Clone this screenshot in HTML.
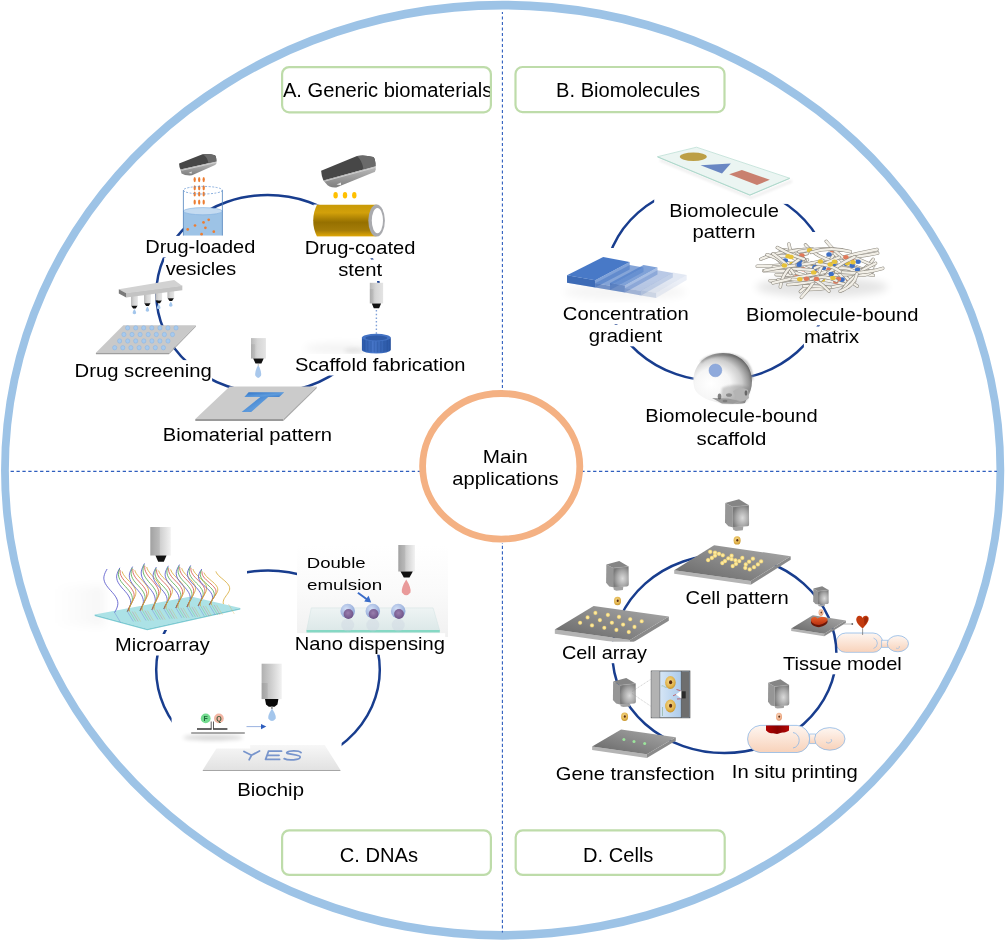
<!DOCTYPE html>
<html><head><meta charset="utf-8"><style>
html,body{margin:0;padding:0;background:#fff;}
svg{display:block;will-change:transform;}
text{font-family:"Liberation Sans",sans-serif;}
</style></head><body>
<svg width="1005" height="941" viewBox="0 0 1005 941">
<defs>
<linearGradient id="gold" x1="0" y1="0" x2="0" y2="1">
 <stop offset="0" stop-color="#C99A06"/><stop offset="0.25" stop-color="#D2A00A"/><stop offset="0.55" stop-color="#967000"/><stop offset="0.8" stop-color="#A47C08"/><stop offset="1" stop-color="#E3AA05"/></linearGradient>
<linearGradient id="nozz" x1="0" y1="0" x2="1" y2="0">
 <stop offset="0" stop-color="#B8B8B8"/><stop offset="0.45" stop-color="#D6D6D6"/><stop offset="1" stop-color="#E4E4E4"/></linearGradient>
<linearGradient id="nozz2" x1="0" y1="0" x2="1" y2="0">
 <stop offset="0" stop-color="#B0B0B0"/><stop offset="0.5" stop-color="#D0D0D0"/><stop offset="1" stop-color="#F2F2F2"/></linearGradient>
<linearGradient id="tblue" x1="0" y1="0" x2="1" y2="1">
 <stop offset="0" stop-color="#2F74C8"/><stop offset="0.6" stop-color="#5E9BDC"/><stop offset="1" stop-color="#3B7CCB"/></linearGradient>
<radialGradient id="headg" cx="0.6" cy="0.58" r="0.62">
 <stop offset="0" stop-color="#DADADA"/><stop offset="0.6" stop-color="#A6A6A6"/><stop offset="1" stop-color="#7A7A7A"/></radialGradient>
<linearGradient id="slabg" x1="0" y1="1" x2="1" y2="0">
 <stop offset="0" stop-color="#656565"/><stop offset="1" stop-color="#ABABAB"/></linearGradient>
<radialGradient id="cellg" cx="0.45" cy="0.4" r="0.6">
 <stop offset="0" stop-color="#F6DC90"/><stop offset="0.7" stop-color="#E2B44C"/><stop offset="1" stop-color="#C8962E"/></radialGradient>
<radialGradient id="cellp" cx="0.45" cy="0.4" r="0.6">
 <stop offset="0" stop-color="#FBE0CC"/><stop offset="0.7" stop-color="#F0B08A"/><stop offset="1" stop-color="#E09068"/></radialGradient>
<radialGradient id="ydot" cx="0.5" cy="0.5" r="0.5">
 <stop offset="0" stop-color="#FFF3B8"/><stop offset="0.6" stop-color="#F8DE82"/><stop offset="1" stop-color="#F4D67A" stop-opacity="0.3"/></radialGradient>
<linearGradient id="mouse" x1="0" y1="0" x2="0" y2="1">
 <stop offset="0" stop-color="#FEF6F1"/><stop offset="1" stop-color="#F8D2BA"/></linearGradient>
<radialGradient id="skull" cx="0.36" cy="0.62" r="0.72" fx="0.3" fy="0.6">
 <stop offset="0" stop-color="#FFFFFF"/><stop offset="0.42" stop-color="#F6F6F6"/><stop offset="0.68" stop-color="#CDCDCD"/><stop offset="0.86" stop-color="#8E8E8E"/><stop offset="1" stop-color="#5A5A5A"/></radialGradient>
<radialGradient id="sphO" cx="0.4" cy="0.35" r="0.65">
 <stop offset="0" stop-color="#D4E0F6"/><stop offset="1" stop-color="#90A8D8"/></radialGradient>
<radialGradient id="sphI" cx="0.45" cy="0.4" r="0.6">
 <stop offset="0" stop-color="#9A7EAE"/><stop offset="1" stop-color="#6E5488"/></radialGradient>
<linearGradient id="slide" x1="0" y1="0" x2="0" y2="1">
 <stop offset="0" stop-color="#EEF4F4"/><stop offset="1" stop-color="#DCE8E8"/></linearGradient>
<linearGradient id="chip" x1="0" y1="0" x2="0" y2="1">
 <stop offset="0" stop-color="#F7F7F7"/><stop offset="1" stop-color="#E2E2E2"/></linearGradient>
<linearGradient id="scaf" x1="0" y1="0" x2="1" y2="0">
 <stop offset="0" stop-color="#2F5FB0"/><stop offset="0.4" stop-color="#4F80D4"/><stop offset="1" stop-color="#2D5BAA"/></linearGradient>
<linearGradient id="shadowL" x1="0" y1="0" x2="1" y2="0">
 <stop offset="0" stop-color="#000" stop-opacity="0"/><stop offset="1" stop-color="#000" stop-opacity="0.10"/></linearGradient>
<linearGradient id="heart" x1="0" y1="0" x2="0" y2="1">
 <stop offset="0" stop-color="#E8602A"/><stop offset="1" stop-color="#B83010"/></linearGradient>
<linearGradient id="redp" x1="0" y1="0" x2="1" y2="0">
 <stop offset="0" stop-color="#B00000"/><stop offset="0.5" stop-color="#8A0000"/><stop offset="1" stop-color="#B40606"/></linearGradient>
<linearGradient id="inset" x1="0" y1="0" x2="1" y2="0">
 <stop offset="0" stop-color="#E6F0FA"/><stop offset="1" stop-color="#9CC0E6"/></linearGradient>
<filter id="blur2" x="-30%" y="-60%" width="160%" height="220%"><feGaussianBlur stdDeviation="2"/></filter>
<filter id="blur4" x="-30%" y="-60%" width="160%" height="220%"><feGaussianBlur stdDeviation="4"/></filter>
<filter id="blur1" x="-30%" y="-60%" width="160%" height="220%"><feGaussianBlur stdDeviation="0.8"/></filter>
</defs>
<rect width="1005" height="941" fill="#fff"/>
<path fill-rule="evenodd" fill="#9DC3E6" d="M1.0499999999999545,470.2 a501.6,469.2 0 1 0 1003.2,0 a501.6,469.2 0 1 0 -1003.2,0 Z M8.849999999999966,470.2 a493.8,460.7 0 1 0 987.6,0 a493.8,460.7 0 1 0 -987.6,0 Z"/>
<line x1="502.4" y1="12" x2="502.4" y2="400" stroke="#2F5EBE" stroke-width="1.1" stroke-dasharray="3.1 2.4" stroke-dashoffset="1.1"/>
<line x1="502.4" y1="543" x2="502.4" y2="932.5" stroke="#2F5EBE" stroke-width="1.1" stroke-dasharray="3.1 2.4" stroke-dashoffset="2.7"/>
<line x1="10.6" y1="471.4" x2="430" y2="471.4" stroke="#2F5EBE" stroke-width="1.1" stroke-dasharray="3.3 2.6"/>
<line x1="578" y1="471.4" x2="997" y2="471.4" stroke="#2F5EBE" stroke-width="1.1" stroke-dasharray="3.3 2.6" stroke-dashoffset="2.6"/>
<ellipse cx="501.2" cy="466.3" rx="78.6" ry="72.8" fill="#fff" stroke="#F4B183" stroke-width="6.8"/>
<rect x="282" y="67" width="209" height="45.400000000000006" rx="7" ry="7" fill="#fff"/>
<rect x="515.4" y="66.9" width="209.20000000000005" height="45.3" rx="7" ry="7" fill="#fff"/>
<rect x="282" y="830.2" width="209" height="44.799999999999955" rx="7" ry="7" fill="#fff"/>
<rect x="515.6" y="830.2" width="209.19999999999993" height="44.799999999999955" rx="7" ry="7" fill="#fff"/>
<path d="M845.8,633 L873.0,633 A9.7,9.7 0 0 1 873.0,652.4 L845.8,652.4 A9.7,9.7 0 0 1 845.8,633 Z" fill="url(#mouse)" stroke="#8DB8E6" stroke-width="0.8"/>
<rect x="881.7" y="640.2" width="6.5" height="7.1" fill="url(#mouse)" stroke="#8DB8E6" stroke-width="0.7"/>
<ellipse cx="897.9" cy="643.7" rx="10.6" ry="8.1" fill="url(#mouse)" stroke="#8DB8E6" stroke-width="0.8"/>
<path d="M873.5,638 A5.5,5.5 0 0 1 873.5,648.5" fill="none" stroke="#8DB8E6" stroke-width="0.7"/>
<path d="M896,648 a2,1.5 0 1 0 3,-2" fill="none" stroke="#8DB8E6" stroke-width="0.6"/>
<ellipse cx="267.8" cy="294.0" rx="111.5" ry="99.0" fill="none" stroke="#183D8E" stroke-width="2.5"/>
<ellipse cx="717.5" cy="282.4" rx="112.3" ry="98.7" fill="none" stroke="#183D8E" stroke-width="2.5"/>
<ellipse cx="268.0" cy="669.8" rx="111.8" ry="99.4" fill="none" stroke="#183D8E" stroke-width="2.5"/>
<ellipse cx="724.4" cy="653.8" rx="112.0" ry="99.3" fill="none" stroke="#183D8E" stroke-width="2.5"/>
<linearGradient id="band" x1="0" y1="0" x2="0" y2="1"><stop offset="0" stop-color="#BDBDBD"/><stop offset="1" stop-color="#7E7E7E"/></linearGradient>
<path d="M179.1,163.4 L202.5,154.3 Q209,153.3 214.9,155.3 Q216.4,156.5 216.4,161.5 L180.5,169.6 Q179.1,166.5 179.1,163.4 Z" fill="#474747"/>
<path d="M202.5,154.3 Q209,153.3 214.9,155.3 Q216.4,156.5 216.4,161.5 L208.5,163.3 Q207.5,157 202.5,154.3 Z" fill="#6A6A6A"/>
<path d="M180.5,169.6 L216.4,161.5 L216.4,163.5 Q216,164.8 214.5,165.3 L192,175.3 Q185,175.8 181.5,173.4 Z" fill="url(#band)"/>
<path d="M181.5,170.3 L216,162.5" fill="none" stroke="#D2D2D2" stroke-width="0.9"/>
<path d="M188.5,173 l3.2,-1.6 l0,2.2 z" fill="#E6E6E6"/>
<ellipse cx="194.7" cy="179.6" rx="1.15" ry="2.6" fill="#ED7D31"/>
<ellipse cx="194.7" cy="187.8" rx="1.15" ry="2.6" fill="#ED7D31"/>
<ellipse cx="194.7" cy="194.0" rx="1.15" ry="2.6" fill="#ED7D31"/>
<ellipse cx="194.7" cy="202.1" rx="1.15" ry="2.6" fill="#ED7D31"/>
<ellipse cx="199.2" cy="179.6" rx="1.15" ry="2.6" fill="#ED7D31"/>
<ellipse cx="199.2" cy="187.8" rx="1.15" ry="2.6" fill="#ED7D31"/>
<ellipse cx="199.2" cy="194.0" rx="1.15" ry="2.6" fill="#ED7D31"/>
<ellipse cx="199.2" cy="202.1" rx="1.15" ry="2.6" fill="#ED7D31"/>
<ellipse cx="203.7" cy="179.6" rx="1.15" ry="2.6" fill="#ED7D31"/>
<ellipse cx="203.7" cy="187.8" rx="1.15" ry="2.6" fill="#ED7D31"/>
<ellipse cx="203.7" cy="194.0" rx="1.15" ry="2.6" fill="#ED7D31"/>
<ellipse cx="203.7" cy="202.1" rx="1.15" ry="2.6" fill="#ED7D31"/>
<rect x="183.4" y="211.2" width="39" height="24.4" fill="#9DC3E6"/>
<ellipse cx="202.9" cy="211.2" rx="19.5" ry="3.6" fill="#C4DBF1" stroke="#7FAEDF" stroke-width="0.6"/>
<path d="M183.4,190.2 L183.4,235.6 M222.4,190.2 L222.4,235.6" stroke="#4F81BD" stroke-width="0.8"/>
<ellipse cx="202.9" cy="190.2" rx="19.5" ry="3.8" fill="none" stroke="#5B8FD0" stroke-width="0.7" stroke-dasharray="2 1.5"/>
<circle cx="208.7" cy="219.8" r="1.35" fill="#ED7D31"/>
<circle cx="203.5" cy="222.4" r="1.35" fill="#ED7D31"/>
<circle cx="195" cy="225.5" r="1.35" fill="#ED7D31"/>
<circle cx="205.4" cy="227.8" r="1.35" fill="#ED7D31"/>
<circle cx="187.7" cy="229.4" r="1.35" fill="#ED7D31"/>
<circle cx="213.8" cy="231.7" r="1.35" fill="#ED7D31"/>
<circle cx="201.6" cy="234.2" r="1.35" fill="#ED7D31"/>
<path d="M321.1,170.7 L357,156.1 Q364,154.5 373.2,157.1 Q375.5,158.5 375.5,166.2 L323.4,180.4 Q321.5,176 321.1,170.7 Z" fill="#474747"/>
<path d="M357,156.1 Q364,154.5 373.2,157.1 Q375.5,158.5 375.5,166.2 L363.5,169.5 Q362,160 357,156.1 Z" fill="#6A6A6A"/>
<path d="M323.4,180.4 L375.5,166.2 L375.8,169.4 Q375.5,172 373.2,172.6 L336.3,187.5 Q329,188 326,183.6 Z" fill="url(#band)"/>
<path d="M324.5,181.2 L375.3,167.4" fill="none" stroke="#D2D2D2" stroke-width="0.9"/>
<path d="M336.5,184.5 l4.5,-2 l0,2.8 z" fill="#E6E6E6"/>
<ellipse cx="335.6" cy="195.3" rx="2.2" ry="3.3" fill="#FFC000"/>
<ellipse cx="345.0" cy="195.3" rx="2.2" ry="3.3" fill="#FFC000"/>
<ellipse cx="354.3" cy="195.3" rx="2.2" ry="3.3" fill="#FFC000"/>
<rect x="313.5" y="204.5" width="73" height="34.8" fill="#fff"/>
<path d="M317,204.7 L376.6,204.7 L376.6,236.6 L317,236.6 Q313.2,229 313.2,220.6 Q313.2,212 317,204.7 Z" fill="url(#gold)"/>
<ellipse cx="376.6" cy="220.6" rx="8.3" ry="16" fill="#A9AAAE"/>
<ellipse cx="377.4" cy="220.6" rx="5.6" ry="12.6" fill="#fff"/>
<rect x="131.0" y="294.2" width="6.8" height="11.5" fill="url(#nozz)"/>
<path d="M131.3,305.7 L137.5,305.7 L135.7,308.5 L133.1,308.5 Z" fill="#111"/>
<path d="M134.4,309.0 Q136.6,312.4 136.0,313.6 Q134.4,315.0 132.8,313.6 Q132.2,312.4 134.4,309.0 Z" fill="#A3C6EC"/>
<rect x="144.0" y="292.5" width="6.8" height="10.7" fill="url(#nozz)"/>
<path d="M144.3,303.2 L150.5,303.2 L148.7,306.0 L146.1,306.0 Z" fill="#111"/>
<path d="M147.4,306.5 Q149.6,309.9 149.0,311.1 Q147.4,312.5 145.8,311.1 Q145.2,309.9 147.4,306.5 Z" fill="#A3C6EC"/>
<rect x="155.3" y="291.0" width="6.8" height="9.5" fill="url(#nozz)"/>
<path d="M155.6,300.5 L161.8,300.5 L160.0,303.3 L157.4,303.3 Z" fill="#111"/>
<path d="M158.7,303.8 Q160.9,307.2 160.3,308.4 Q158.7,309.8 157.1,308.4 Q156.5,307.2 158.7,303.8 Z" fill="#A3C6EC"/>
<rect x="167.4" y="289.4" width="6.8" height="8.8" fill="url(#nozz)"/>
<path d="M167.7,298.2 L173.9,298.2 L172.1,301.0 L169.5,301.0 Z" fill="#111"/>
<path d="M170.8,301.5 Q173.0,304.9 172.4,306.1 Q170.8,307.5 169.2,306.1 Q168.6,304.9 170.8,301.5 Z" fill="#A3C6EC"/>
<path d="M126.2,292.8 L182.3,285.4 L182.3,290.2 L126.2,297.6 Z" fill="#C3C3C3"/>
<path d="M118.8,289.3 L174.2,280.1 L182.3,285.9 L126.2,293.3 Z" fill="#D2D2D2"/>
<path d="M118.8,289.3 L126.2,293.3 L126.2,297.6 L118.8,293.6 Z" fill="#7A7A7A"/>
<path d="M123.3,325.3 L195.8,325.3 L169.1,352.8 L95.9,352.8 Z" fill="#C9C9C9"/>
<path d="M95.9,352.8 L169.1,352.8 L169.1,354.3 L95.9,354.3 Z" fill="#9E9E9E"/>
<path d="M169.1,352.8 L195.8,325.3 L195.8,326.8 L169.1,354.3 Z" fill="#ABABAB"/>
<ellipse cx="127.6" cy="327.9" rx="2.1" ry="2.2" fill="#A7CAEE" stroke="#86B2E3" stroke-width="0.5"/>
<ellipse cx="135.7" cy="327.9" rx="2.1" ry="2.2" fill="#A7CAEE" stroke="#86B2E3" stroke-width="0.5"/>
<ellipse cx="143.7" cy="327.9" rx="2.1" ry="2.2" fill="#A7CAEE" stroke="#86B2E3" stroke-width="0.5"/>
<ellipse cx="151.8" cy="327.9" rx="2.1" ry="2.2" fill="#A7CAEE" stroke="#86B2E3" stroke-width="0.5"/>
<ellipse cx="159.9" cy="327.9" rx="2.1" ry="2.2" fill="#A7CAEE" stroke="#86B2E3" stroke-width="0.5"/>
<ellipse cx="167.9" cy="327.9" rx="2.1" ry="2.2" fill="#A7CAEE" stroke="#86B2E3" stroke-width="0.5"/>
<ellipse cx="176.0" cy="327.9" rx="2.1" ry="2.2" fill="#A7CAEE" stroke="#86B2E3" stroke-width="0.5"/>
<ellipse cx="123.9" cy="334.5" rx="2.1" ry="2.2" fill="#A7CAEE" stroke="#86B2E3" stroke-width="0.5"/>
<ellipse cx="132.0" cy="334.5" rx="2.1" ry="2.2" fill="#A7CAEE" stroke="#86B2E3" stroke-width="0.5"/>
<ellipse cx="140.1" cy="334.5" rx="2.1" ry="2.2" fill="#A7CAEE" stroke="#86B2E3" stroke-width="0.5"/>
<ellipse cx="148.2" cy="334.5" rx="2.1" ry="2.2" fill="#A7CAEE" stroke="#86B2E3" stroke-width="0.5"/>
<ellipse cx="156.3" cy="334.5" rx="2.1" ry="2.2" fill="#A7CAEE" stroke="#86B2E3" stroke-width="0.5"/>
<ellipse cx="164.4" cy="334.5" rx="2.1" ry="2.2" fill="#A7CAEE" stroke="#86B2E3" stroke-width="0.5"/>
<ellipse cx="172.5" cy="334.5" rx="2.1" ry="2.2" fill="#A7CAEE" stroke="#86B2E3" stroke-width="0.5"/>
<ellipse cx="119.6" cy="341.0" rx="2.1" ry="2.2" fill="#A7CAEE" stroke="#86B2E3" stroke-width="0.5"/>
<ellipse cx="127.7" cy="341.0" rx="2.1" ry="2.2" fill="#A7CAEE" stroke="#86B2E3" stroke-width="0.5"/>
<ellipse cx="135.7" cy="341.0" rx="2.1" ry="2.2" fill="#A7CAEE" stroke="#86B2E3" stroke-width="0.5"/>
<ellipse cx="143.8" cy="341.0" rx="2.1" ry="2.2" fill="#A7CAEE" stroke="#86B2E3" stroke-width="0.5"/>
<ellipse cx="151.9" cy="341.0" rx="2.1" ry="2.2" fill="#A7CAEE" stroke="#86B2E3" stroke-width="0.5"/>
<ellipse cx="159.9" cy="341.0" rx="2.1" ry="2.2" fill="#A7CAEE" stroke="#86B2E3" stroke-width="0.5"/>
<ellipse cx="168.0" cy="341.0" rx="2.1" ry="2.2" fill="#A7CAEE" stroke="#86B2E3" stroke-width="0.5"/>
<ellipse cx="114.7" cy="347.7" rx="2.1" ry="2.2" fill="#A7CAEE" stroke="#86B2E3" stroke-width="0.5"/>
<ellipse cx="122.8" cy="347.7" rx="2.1" ry="2.2" fill="#A7CAEE" stroke="#86B2E3" stroke-width="0.5"/>
<ellipse cx="130.9" cy="347.7" rx="2.1" ry="2.2" fill="#A7CAEE" stroke="#86B2E3" stroke-width="0.5"/>
<ellipse cx="139.1" cy="347.7" rx="2.1" ry="2.2" fill="#A7CAEE" stroke="#86B2E3" stroke-width="0.5"/>
<ellipse cx="147.2" cy="347.7" rx="2.1" ry="2.2" fill="#A7CAEE" stroke="#86B2E3" stroke-width="0.5"/>
<ellipse cx="155.3" cy="347.7" rx="2.1" ry="2.2" fill="#A7CAEE" stroke="#86B2E3" stroke-width="0.5"/>
<ellipse cx="163.4" cy="347.7" rx="2.1" ry="2.2" fill="#A7CAEE" stroke="#86B2E3" stroke-width="0.5"/>
<path d="M229.7,386.4 L316.7,386.4 L283.3,419.1 L195.3,419.1 Z" fill="#CBCBCB"/>
<path d="M195.3,419.1 L283.3,419.1 L283.3,420.9 L195.3,420.9 Z" fill="#9A9A9A"/>
<path d="M283.3,419.1 L316.7,386.4 L316.7,388.2 L283.3,420.9 Z" fill="#AAAAAA"/>
<path d="M248.6,392.3 L284.2,392.3 L279.2,397 L244.4,397 Z" fill="url(#tblue)"/>
<path d="M260.4,397 L268.2,397 L251.2,411.9 L241.6,411.9 Z" fill="url(#tblue)"/>
<rect x="251" y="338.1" width="14.9" height="20.5" fill="url(#nozz)"/>
<rect x="251" y="344.2" width="4.2" height="14.3" fill="#000" opacity="0.06"/>
<path d="M253.2,358.6 L263.7,358.6 L261.4,363.4 L255.5,363.4 Z" fill="#111"/>
<path d="M258.2,364.8 Q262,372 261,375.8 Q258.2,380 255.4,375.8 Q254.4,372 258.2,364.8 Z" fill="#A9C8EC"/>
<path d="M257.6,364 L258.8,364 L258.5,366 L257.9,366Z" fill="#bbb"/>
<rect x="286" y="283.5" width="110" height="71" fill="#fff"/>
<ellipse cx="338" cy="348.5" rx="34" ry="5" fill="#000" opacity="0.05" filter="url(#blur4)"/>
<ellipse cx="354" cy="350.5" rx="10" ry="2.5" fill="#000" opacity="0.08" filter="url(#blur2)"/>
<rect x="369.8" y="282.8" width="13.3" height="20.6" fill="url(#nozz)"/>
<rect x="369.8" y="289.0" width="3.7" height="14.4" fill="#000" opacity="0.06"/>
<path d="M371.8,303.4 L381.1,303.4 L379.1,308.3 L373.8,308.3 Z" fill="#111"/>
<line x1="376.4" y1="310" x2="376.4" y2="334" stroke="#7F9FD8" stroke-width="1.4" stroke-dasharray="1.5 2.2"/>
<path d="M361.9,337.5 L361.9,349.8 A14.4,3.8 0 0 0 390.7,349.8 L390.7,337.5 Z" fill="url(#scaf)"/>
<line x1="363.00" y1="338.5" x2="363.00" y2="350.37" stroke="#1A4088" stroke-width="0.55" opacity="0.7"/>
<line x1="364.45" y1="338.5" x2="364.45" y2="350.81" stroke="#1A4088" stroke-width="0.55" opacity="0.7"/>
<line x1="365.90" y1="338.5" x2="365.90" y2="351.20" stroke="#1A4088" stroke-width="0.55" opacity="0.7"/>
<line x1="367.35" y1="338.5" x2="367.35" y2="351.53" stroke="#1A4088" stroke-width="0.55" opacity="0.7"/>
<line x1="368.80" y1="338.5" x2="368.80" y2="351.82" stroke="#1A4088" stroke-width="0.55" opacity="0.7"/>
<line x1="370.25" y1="338.5" x2="370.25" y2="352.06" stroke="#1A4088" stroke-width="0.55" opacity="0.7"/>
<line x1="371.70" y1="338.5" x2="371.70" y2="352.24" stroke="#1A4088" stroke-width="0.55" opacity="0.7"/>
<line x1="373.15" y1="338.5" x2="373.15" y2="352.38" stroke="#1A4088" stroke-width="0.55" opacity="0.7"/>
<line x1="374.60" y1="338.5" x2="374.60" y2="352.47" stroke="#1A4088" stroke-width="0.55" opacity="0.7"/>
<line x1="376.05" y1="338.5" x2="376.05" y2="352.50" stroke="#1A4088" stroke-width="0.55" opacity="0.7"/>
<line x1="377.50" y1="338.5" x2="377.50" y2="352.48" stroke="#1A4088" stroke-width="0.55" opacity="0.7"/>
<line x1="378.95" y1="338.5" x2="378.95" y2="352.42" stroke="#1A4088" stroke-width="0.55" opacity="0.7"/>
<line x1="380.40" y1="338.5" x2="380.40" y2="352.30" stroke="#1A4088" stroke-width="0.55" opacity="0.7"/>
<line x1="381.85" y1="338.5" x2="381.85" y2="352.13" stroke="#1A4088" stroke-width="0.55" opacity="0.7"/>
<line x1="383.30" y1="338.5" x2="383.30" y2="351.91" stroke="#1A4088" stroke-width="0.55" opacity="0.7"/>
<line x1="384.75" y1="338.5" x2="384.75" y2="351.64" stroke="#1A4088" stroke-width="0.55" opacity="0.7"/>
<line x1="386.20" y1="338.5" x2="386.20" y2="351.32" stroke="#1A4088" stroke-width="0.55" opacity="0.7"/>
<line x1="387.65" y1="338.5" x2="387.65" y2="350.95" stroke="#1A4088" stroke-width="0.55" opacity="0.7"/>
<line x1="389.10" y1="338.5" x2="389.10" y2="350.52" stroke="#1A4088" stroke-width="0.55" opacity="0.7"/>
<line x1="390.55" y1="338.5" x2="390.55" y2="350.05" stroke="#1A4088" stroke-width="0.55" opacity="0.7"/>
<ellipse cx="376.3" cy="337.6" rx="14.4" ry="3.8" fill="#4473C4"/>
<ellipse cx="376.3" cy="338.0" rx="11" ry="2.4" fill="#2F5BA8"/>
<rect x="654.2" y="141" width="140" height="62.9" fill="#fff"/>
<path d="M660,160 L751,198 L792,181" fill="none" stroke="#000" stroke-opacity="0.06" stroke-width="3" filter="url(#blur1)"/>
<path d="M657.5,156.7 L696.5,147.2 L789.7,178.2 L749.9,194.9 Z" fill="#EBF5F2" stroke="#BEE0D5" stroke-width="0.8"/>
<path d="M657.5,156.9 L749.9,195.2 L789.7,178.4" fill="none" stroke="#A9D6C8" stroke-width="0.9"/>
<ellipse cx="693.3" cy="156.7" rx="13.5" ry="4.2" fill="#BC9F45"/>
<path d="M700.5,165.2 L730.8,163.6 L722,173.4 Z" fill="#6987C3"/>
<path d="M729.2,174.2 L741.9,169.9 L769.8,179.8 L757,185.1 Z" fill="#C9806F"/>
<rect x="556" y="248" width="142" height="57" fill="#fff"/>
<ellipse cx="625" cy="292" rx="62" ry="8" fill="#000" opacity="0.04" filter="url(#blur4)"/>
<polygon points="567.0,275.3 595.2,280.2 595.2,287.6 567.0,282.7" fill="#3E72C4" opacity="0.95" filter="none"/>
<polygon points="567.0,275.3 595.2,280.2 595.2,287.6 567.0,282.7" fill="#1F3F80" opacity="0.24"/>
<polygon points="603.2,257.1 629.7,262.0 595.2,280.2 567.0,275.3" fill="#3E72C4" opacity="0.95"/>
<polygon points="629.7,262.0 595.2,280.2 595.2,287.6 629.7,269.4" fill="#3E72C4" opacity="0.66"/>
<polygon points="595.2,283.2 610.0,285.7 610.0,290.1 595.2,287.6" fill="#5682C9" opacity="0.72" filter="none"/>
<polygon points="595.2,283.2 610.0,285.7 610.0,290.1 595.2,287.6" fill="#1F3F80" opacity="0.18"/>
<polygon points="629.7,265.0 643.5,267.6 610.0,285.7 595.2,283.2" fill="#5682C9" opacity="0.72"/>
<polygon points="643.5,267.6 610.0,285.7 610.0,290.1 643.5,272.0" fill="#5682C9" opacity="0.50"/>
<polygon points="610.0,283.1 624.9,285.6 624.9,292.6 610.0,290.1" fill="#4F7EC9" opacity="0.72" filter="none"/>
<polygon points="610.0,283.1 624.9,285.6 624.9,292.6 610.0,290.1" fill="#1F3F80" opacity="0.18"/>
<polygon points="643.5,265.0 657.5,267.6 624.9,285.6 610.0,283.1" fill="#4F7EC9" opacity="0.72"/>
<polygon points="657.5,267.6 624.9,285.6 624.9,292.6 657.5,274.6" fill="#4F7EC9" opacity="0.50"/>
<polygon points="624.9,288.2 641.2,291.0 641.2,295.4 624.9,292.6" fill="#7494CE" opacity="0.5" filter="none"/>
<polygon points="624.9,288.2 641.2,291.0 641.2,295.4 624.9,292.6" fill="#1F3F80" opacity="0.12"/>
<polygon points="657.5,270.2 672.8,273.0 641.2,291.0 624.9,288.2" fill="#7494CE" opacity="0.5"/>
<polygon points="672.8,273.0 641.2,291.0 641.2,295.4 672.8,277.4" fill="#7494CE" opacity="0.35"/>
<polygon points="641.2,290.4 656.1,293.0 656.1,298.0 641.2,295.4" fill="#A4B6DA" opacity="0.32" filter="none"/>
<polygon points="641.2,290.4 656.1,293.0 656.1,298.0 641.2,295.4" fill="#1F3F80" opacity="0.08"/>
<polygon points="672.8,272.4 686.7,275.0 656.1,293.0 641.2,290.4" fill="#A4B6DA" opacity="0.32"/>
<polygon points="686.7,275.0 656.1,293.0 656.1,298.0 686.7,280.0" fill="#A4B6DA" opacity="0.22"/>
<rect x="738" y="232" width="166" height="72.5" fill="#fff"/>
<ellipse cx="822" cy="287" rx="66" ry="10" fill="#000" opacity="0.10" filter="url(#blur4)"/>
<path d="M806.3,279.7 Q819.2,270.7 829.6,260.3" fill="none" stroke="#8E8A80" stroke-width="3.4" stroke-linecap="round"/>
<path d="M806.3,279.7 Q819.2,270.7 829.6,260.3" fill="none" stroke="#F2EFE7" stroke-width="2.3" stroke-linecap="round"/>
<path d="M782.1,261.5 Q792.3,266.0 797.0,273.7" fill="none" stroke="#8E8A80" stroke-width="3.4" stroke-linecap="round"/>
<path d="M782.1,261.5 Q792.3,266.0 797.0,273.7" fill="none" stroke="#F2EFE7" stroke-width="2.3" stroke-linecap="round"/>
<path d="M821.9,277.1 Q836.7,267.5 856.7,268.5" fill="none" stroke="#8E8A80" stroke-width="3.4" stroke-linecap="round"/>
<path d="M821.9,277.1 Q836.7,267.5 856.7,268.5" fill="none" stroke="#F2EFE7" stroke-width="2.3" stroke-linecap="round"/>
<path d="M773.1,254.7 Q790.5,258.4 807.2,253.5" fill="none" stroke="#8E8A80" stroke-width="3.4" stroke-linecap="round"/>
<path d="M773.1,254.7 Q790.5,258.4 807.2,253.5" fill="none" stroke="#F2EFE7" stroke-width="2.3" stroke-linecap="round"/>
<path d="M807.8,273.0 Q825.3,271.2 842.3,275.0" fill="none" stroke="#8E8A80" stroke-width="3.4" stroke-linecap="round"/>
<path d="M807.8,273.0 Q825.3,271.2 842.3,275.0" fill="none" stroke="#F2EFE7" stroke-width="2.3" stroke-linecap="round"/>
<path d="M844.7,279.4 Q857.5,272.1 873.4,275.3" fill="none" stroke="#8E8A80" stroke-width="3.4" stroke-linecap="round"/>
<path d="M844.7,279.4 Q857.5,272.1 873.4,275.3" fill="none" stroke="#F2EFE7" stroke-width="2.3" stroke-linecap="round"/>
<path d="M830.3,252.0 Q847.7,265.6 872.1,272.0" fill="none" stroke="#8E8A80" stroke-width="3.4" stroke-linecap="round"/>
<path d="M830.3,252.0 Q847.7,265.6 872.1,272.0" fill="none" stroke="#F2EFE7" stroke-width="2.3" stroke-linecap="round"/>
<path d="M859.7,271.7 Q868.3,266.5 873.2,259.3" fill="none" stroke="#8E8A80" stroke-width="3.4" stroke-linecap="round"/>
<path d="M859.7,271.7 Q868.3,266.5 873.2,259.3" fill="none" stroke="#F2EFE7" stroke-width="2.3" stroke-linecap="round"/>
<path d="M827.3,257.9 Q853.1,258.7 877.7,253.1" fill="none" stroke="#8E8A80" stroke-width="3.4" stroke-linecap="round"/>
<path d="M827.3,257.9 Q853.1,258.7 877.7,253.1" fill="none" stroke="#F2EFE7" stroke-width="2.3" stroke-linecap="round"/>
<path d="M760.8,259.2 Q780.7,250.5 804.2,249.4" fill="none" stroke="#8E8A80" stroke-width="3.4" stroke-linecap="round"/>
<path d="M760.8,259.2 Q780.7,250.5 804.2,249.4" fill="none" stroke="#F2EFE7" stroke-width="2.3" stroke-linecap="round"/>
<path d="M817.3,263.3 Q829.0,266.2 841.3,265.4" fill="none" stroke="#8E8A80" stroke-width="3.4" stroke-linecap="round"/>
<path d="M817.3,263.3 Q829.0,266.2 841.3,265.4" fill="none" stroke="#F2EFE7" stroke-width="2.3" stroke-linecap="round"/>
<path d="M757.2,266.1 Q783.3,266.8 807.5,259.9" fill="none" stroke="#8E8A80" stroke-width="3.4" stroke-linecap="round"/>
<path d="M757.2,266.1 Q783.3,266.8 807.5,259.9" fill="none" stroke="#F2EFE7" stroke-width="2.3" stroke-linecap="round"/>
<path d="M783.8,267.3 Q798.3,266.2 800.8,256.2" fill="none" stroke="#8E8A80" stroke-width="3.4" stroke-linecap="round"/>
<path d="M783.8,267.3 Q798.3,266.2 800.8,256.2" fill="none" stroke="#F2EFE7" stroke-width="2.3" stroke-linecap="round"/>
<path d="M780.1,249.4 Q796.7,250.4 805.1,260.4" fill="none" stroke="#8E8A80" stroke-width="3.4" stroke-linecap="round"/>
<path d="M780.1,249.4 Q796.7,250.4 805.1,260.4" fill="none" stroke="#F2EFE7" stroke-width="2.3" stroke-linecap="round"/>
<path d="M763.6,270.7 Q779.6,270.5 795.5,271.6" fill="none" stroke="#8E8A80" stroke-width="3.4" stroke-linecap="round"/>
<path d="M763.6,270.7 Q779.6,270.5 795.5,271.6" fill="none" stroke="#F2EFE7" stroke-width="2.3" stroke-linecap="round"/>
<path d="M807.1,289.6 Q832.3,289.2 854.7,281.1" fill="none" stroke="#8E8A80" stroke-width="3.4" stroke-linecap="round"/>
<path d="M807.1,289.6 Q832.3,289.2 854.7,281.1" fill="none" stroke="#F2EFE7" stroke-width="2.3" stroke-linecap="round"/>
<path d="M788.9,243.9 Q789.8,254.7 804.0,259.0" fill="none" stroke="#8E8A80" stroke-width="3.4" stroke-linecap="round"/>
<path d="M788.9,243.9 Q789.8,254.7 804.0,259.0" fill="none" stroke="#F2EFE7" stroke-width="2.3" stroke-linecap="round"/>
<path d="M853.3,274.2 Q865.8,277.8 873.7,270.1" fill="none" stroke="#8E8A80" stroke-width="3.4" stroke-linecap="round"/>
<path d="M853.3,274.2 Q865.8,277.8 873.7,270.1" fill="none" stroke="#F2EFE7" stroke-width="2.3" stroke-linecap="round"/>
<path d="M776.1,274.7 Q796.0,274.7 814.5,279.8" fill="none" stroke="#8E8A80" stroke-width="3.4" stroke-linecap="round"/>
<path d="M776.1,274.7 Q796.0,274.7 814.5,279.8" fill="none" stroke="#F2EFE7" stroke-width="2.3" stroke-linecap="round"/>
<path d="M770.0,280.7 Q789.9,282.4 807.2,275.4" fill="none" stroke="#8E8A80" stroke-width="3.4" stroke-linecap="round"/>
<path d="M770.0,280.7 Q789.9,282.4 807.2,275.4" fill="none" stroke="#F2EFE7" stroke-width="2.3" stroke-linecap="round"/>
<path d="M830.1,262.3 Q831.5,254.6 840.2,249.8" fill="none" stroke="#8E8A80" stroke-width="3.4" stroke-linecap="round"/>
<path d="M830.1,262.3 Q831.5,254.6 840.2,249.8" fill="none" stroke="#F2EFE7" stroke-width="2.3" stroke-linecap="round"/>
<path d="M774.4,255.8 Q785.7,264.9 803.0,265.1" fill="none" stroke="#8E8A80" stroke-width="3.4" stroke-linecap="round"/>
<path d="M774.4,255.8 Q785.7,264.9 803.0,265.1" fill="none" stroke="#F2EFE7" stroke-width="2.3" stroke-linecap="round"/>
<ellipse cx="818.2" cy="279.6" rx="2.7" ry="2.2" fill="#E6C23A"/>
<ellipse cx="811.1" cy="264.8" rx="2.7" ry="2.2" fill="#E6C23A"/>
<ellipse cx="815.0" cy="272.4" rx="2.7" ry="2.2" fill="#E07A5A"/>
<ellipse cx="792.0" cy="264.0" rx="2.7" ry="2.2" fill="#E6C23A"/>
<ellipse cx="845.9" cy="263.8" rx="2.7" ry="2.2" fill="#3D6FC6"/>
<ellipse cx="832.5" cy="250.2" rx="2.7" ry="2.2" fill="#E07A5A"/>
<ellipse cx="829.0" cy="254.4" rx="2.7" ry="2.2" fill="#3D6FC6"/>
<ellipse cx="846.4" cy="280.2" rx="2.7" ry="2.2" fill="#E07A5A"/>
<ellipse cx="785.3" cy="260.5" rx="2.7" ry="2.2" fill="#3D6FC6"/>
<ellipse cx="841.5" cy="279.8" rx="2.7" ry="2.2" fill="#3D6FC6"/>
<ellipse cx="812.6" cy="277.8" rx="2.7" ry="2.2" fill="#E07A5A"/>
<ellipse cx="851.7" cy="259.3" rx="2.7" ry="2.2" fill="#E07A5A"/>
<ellipse cx="835.9" cy="273.5" rx="2.7" ry="2.2" fill="#3D6FC6"/>
<ellipse cx="801.9" cy="255.5" rx="2.7" ry="2.2" fill="#E07A5A"/>
<ellipse cx="829.0" cy="269.5" rx="2.7" ry="2.2" fill="#E07A5A"/>
<ellipse cx="823.5" cy="267.9" rx="2.7" ry="2.2" fill="#3D6FC6"/>
<path d="M833.5,273.5 Q845.6,276.1 853.0,268.9" fill="none" stroke="#8E8A80" stroke-width="3.4" stroke-linecap="round"/>
<path d="M833.5,273.5 Q845.6,276.1 853.0,268.9" fill="none" stroke="#F2EFE7" stroke-width="2.3" stroke-linecap="round"/>
<path d="M810.4,276.2 Q820.9,279.1 831.8,280.8" fill="none" stroke="#8E8A80" stroke-width="3.4" stroke-linecap="round"/>
<path d="M810.4,276.2 Q820.9,279.1 831.8,280.8" fill="none" stroke="#F2EFE7" stroke-width="2.3" stroke-linecap="round"/>
<path d="M839.0,268.3 Q845.4,278.6 857.3,286.1" fill="none" stroke="#8E8A80" stroke-width="3.4" stroke-linecap="round"/>
<path d="M839.0,268.3 Q845.4,278.6 857.3,286.1" fill="none" stroke="#F2EFE7" stroke-width="2.3" stroke-linecap="round"/>
<path d="M800.3,291.6 Q812.7,280.5 828.2,271.5" fill="none" stroke="#8E8A80" stroke-width="3.4" stroke-linecap="round"/>
<path d="M800.3,291.6 Q812.7,280.5 828.2,271.5" fill="none" stroke="#F2EFE7" stroke-width="2.3" stroke-linecap="round"/>
<path d="M805.9,271.3 Q831.3,277.2 857.6,273.6" fill="none" stroke="#8E8A80" stroke-width="3.4" stroke-linecap="round"/>
<path d="M805.9,271.3 Q831.3,277.2 857.6,273.6" fill="none" stroke="#F2EFE7" stroke-width="2.3" stroke-linecap="round"/>
<path d="M834.5,253.5 Q843.1,264.6 859.9,269.4" fill="none" stroke="#8E8A80" stroke-width="3.4" stroke-linecap="round"/>
<path d="M834.5,253.5 Q843.1,264.6 859.9,269.4" fill="none" stroke="#F2EFE7" stroke-width="2.3" stroke-linecap="round"/>
<path d="M805.5,244.9 Q816.3,257.7 836.5,262.2" fill="none" stroke="#8E8A80" stroke-width="3.4" stroke-linecap="round"/>
<path d="M805.5,244.9 Q816.3,257.7 836.5,262.2" fill="none" stroke="#F2EFE7" stroke-width="2.3" stroke-linecap="round"/>
<path d="M778.1,280.0 Q802.6,277.9 825.7,271.8" fill="none" stroke="#8E8A80" stroke-width="3.4" stroke-linecap="round"/>
<path d="M778.1,280.0 Q802.6,277.9 825.7,271.8" fill="none" stroke="#F2EFE7" stroke-width="2.3" stroke-linecap="round"/>
<path d="M803.7,285.8 Q816.9,285.7 830.0,287.3" fill="none" stroke="#8E8A80" stroke-width="3.4" stroke-linecap="round"/>
<path d="M803.7,285.8 Q816.9,285.7 830.0,287.3" fill="none" stroke="#F2EFE7" stroke-width="2.3" stroke-linecap="round"/>
<path d="M853.0,256.7 Q863.3,261.2 873.7,265.7" fill="none" stroke="#8E8A80" stroke-width="3.4" stroke-linecap="round"/>
<path d="M853.0,256.7 Q863.3,261.2 873.7,265.7" fill="none" stroke="#F2EFE7" stroke-width="2.3" stroke-linecap="round"/>
<path d="M786.1,252.1 Q799.1,249.4 812.6,248.9" fill="none" stroke="#8E8A80" stroke-width="3.4" stroke-linecap="round"/>
<path d="M786.1,252.1 Q799.1,249.4 812.6,248.9" fill="none" stroke="#F2EFE7" stroke-width="2.3" stroke-linecap="round"/>
<path d="M811.1,263.2 Q836.5,266.1 861.6,270.2" fill="none" stroke="#8E8A80" stroke-width="3.4" stroke-linecap="round"/>
<path d="M811.1,263.2 Q836.5,266.1 861.6,270.2" fill="none" stroke="#F2EFE7" stroke-width="2.3" stroke-linecap="round"/>
<path d="M834.9,269.3 Q846.2,266.0 855.3,271.7" fill="none" stroke="#8E8A80" stroke-width="3.4" stroke-linecap="round"/>
<path d="M834.9,269.3 Q846.2,266.0 855.3,271.7" fill="none" stroke="#F2EFE7" stroke-width="2.3" stroke-linecap="round"/>
<path d="M838.9,258.3 Q857.6,253.2 877.0,249.5" fill="none" stroke="#8E8A80" stroke-width="3.4" stroke-linecap="round"/>
<path d="M838.9,258.3 Q857.6,253.2 877.0,249.5" fill="none" stroke="#F2EFE7" stroke-width="2.3" stroke-linecap="round"/>
<path d="M825.0,262.6 Q841.2,272.6 848.6,286.9" fill="none" stroke="#8E8A80" stroke-width="3.4" stroke-linecap="round"/>
<path d="M825.0,262.6 Q841.2,272.6 848.6,286.9" fill="none" stroke="#F2EFE7" stroke-width="2.3" stroke-linecap="round"/>
<path d="M799.0,251.6 Q820.1,246.9 841.8,250.3" fill="none" stroke="#8E8A80" stroke-width="3.4" stroke-linecap="round"/>
<path d="M799.0,251.6 Q820.1,246.9 841.8,250.3" fill="none" stroke="#F2EFE7" stroke-width="2.3" stroke-linecap="round"/>
<path d="M783.6,250.5 Q795.9,261.8 814.2,268.1" fill="none" stroke="#8E8A80" stroke-width="3.4" stroke-linecap="round"/>
<path d="M783.6,250.5 Q795.9,261.8 814.2,268.1" fill="none" stroke="#F2EFE7" stroke-width="2.3" stroke-linecap="round"/>
<path d="M801.3,297.4 Q815.3,282.8 822.1,265.8" fill="none" stroke="#8E8A80" stroke-width="3.4" stroke-linecap="round"/>
<path d="M801.3,297.4 Q815.3,282.8 822.1,265.8" fill="none" stroke="#F2EFE7" stroke-width="2.3" stroke-linecap="round"/>
<path d="M774.3,255.6 Q782.8,265.2 793.2,273.7" fill="none" stroke="#8E8A80" stroke-width="3.4" stroke-linecap="round"/>
<path d="M774.3,255.6 Q782.8,265.2 793.2,273.7" fill="none" stroke="#F2EFE7" stroke-width="2.3" stroke-linecap="round"/>
<path d="M826.2,241.3 Q836.0,254.0 851.9,263.2" fill="none" stroke="#8E8A80" stroke-width="3.4" stroke-linecap="round"/>
<path d="M826.2,241.3 Q836.0,254.0 851.9,263.2" fill="none" stroke="#F2EFE7" stroke-width="2.3" stroke-linecap="round"/>
<path d="M803.9,277.6 Q827.6,279.7 849.9,285.5" fill="none" stroke="#8E8A80" stroke-width="3.4" stroke-linecap="round"/>
<path d="M803.9,277.6 Q827.6,279.7 849.9,285.5" fill="none" stroke="#F2EFE7" stroke-width="2.3" stroke-linecap="round"/>
<path d="M767.0,254.7 Q785.1,260.1 790.5,273.4" fill="none" stroke="#8E8A80" stroke-width="3.4" stroke-linecap="round"/>
<path d="M767.0,254.7 Q785.1,260.1 790.5,273.4" fill="none" stroke="#F2EFE7" stroke-width="2.3" stroke-linecap="round"/>
<ellipse cx="842.1" cy="279.5" rx="2.7" ry="2.2" fill="#3D6FC6"/>
<ellipse cx="845.9" cy="257.3" rx="2.7" ry="2.2" fill="#E07A5A"/>
<ellipse cx="822.5" cy="279.5" rx="2.7" ry="2.2" fill="#E6C23A"/>
<ellipse cx="809.6" cy="250.3" rx="2.7" ry="2.2" fill="#E6C23A"/>
<ellipse cx="799.6" cy="261.0" rx="2.7" ry="2.2" fill="#3D6FC6"/>
<ellipse cx="835.8" cy="281.6" rx="2.7" ry="2.2" fill="#E07A5A"/>
<ellipse cx="826.9" cy="275.4" rx="2.7" ry="2.2" fill="#E07A5A"/>
<ellipse cx="857.6" cy="269.8" rx="2.7" ry="2.2" fill="#3D6FC6"/>
<ellipse cx="814.1" cy="269.2" rx="2.7" ry="2.2" fill="#3D6FC6"/>
<ellipse cx="803.2" cy="269.3" rx="2.7" ry="2.2" fill="#E07A5A"/>
<ellipse cx="837.5" cy="270.7" rx="2.7" ry="2.2" fill="#E6C23A"/>
<ellipse cx="838.4" cy="278.9" rx="2.7" ry="2.2" fill="#E07A5A"/>
<ellipse cx="847.5" cy="263.2" rx="2.7" ry="2.2" fill="#E6C23A"/>
<ellipse cx="815.0" cy="267.0" rx="2.7" ry="2.2" fill="#3D6FC6"/>
<ellipse cx="796.5" cy="277.1" rx="2.7" ry="2.2" fill="#E07A5A"/>
<ellipse cx="834.4" cy="266.1" rx="2.7" ry="2.2" fill="#3D6FC6"/>
<path d="M787.8,284.6 Q806.5,284.1 823.2,278.2" fill="none" stroke="#8E8A80" stroke-width="3.4" stroke-linecap="round"/>
<path d="M787.8,284.6 Q806.5,284.1 823.2,278.2" fill="none" stroke="#F2EFE7" stroke-width="2.3" stroke-linecap="round"/>
<path d="M842.5,289.8 Q853.4,273.0 875.6,263.2" fill="none" stroke="#8E8A80" stroke-width="3.4" stroke-linecap="round"/>
<path d="M842.5,289.8 Q853.4,273.0 875.6,263.2" fill="none" stroke="#F2EFE7" stroke-width="2.3" stroke-linecap="round"/>
<path d="M773.4,266.6 Q793.4,268.6 813.5,270.1" fill="none" stroke="#8E8A80" stroke-width="3.4" stroke-linecap="round"/>
<path d="M773.4,266.6 Q793.4,268.6 813.5,270.1" fill="none" stroke="#F2EFE7" stroke-width="2.3" stroke-linecap="round"/>
<path d="M836.0,271.7 Q860.2,275.0 882.8,268.3" fill="none" stroke="#8E8A80" stroke-width="3.4" stroke-linecap="round"/>
<path d="M836.0,271.7 Q860.2,275.0 882.8,268.3" fill="none" stroke="#F2EFE7" stroke-width="2.3" stroke-linecap="round"/>
<path d="M811.1,252.4 Q830.5,246.1 850.4,251.7" fill="none" stroke="#8E8A80" stroke-width="3.4" stroke-linecap="round"/>
<path d="M811.1,252.4 Q830.5,246.1 850.4,251.7" fill="none" stroke="#F2EFE7" stroke-width="2.3" stroke-linecap="round"/>
<path d="M795.9,272.9 Q817.3,277.8 829.0,291.2" fill="none" stroke="#8E8A80" stroke-width="3.4" stroke-linecap="round"/>
<path d="M795.9,272.9 Q817.3,277.8 829.0,291.2" fill="none" stroke="#F2EFE7" stroke-width="2.3" stroke-linecap="round"/>
<path d="M814.9,268.0 Q826.8,262.4 839.3,257.4" fill="none" stroke="#8E8A80" stroke-width="3.4" stroke-linecap="round"/>
<path d="M814.9,268.0 Q826.8,262.4 839.3,257.4" fill="none" stroke="#F2EFE7" stroke-width="2.3" stroke-linecap="round"/>
<path d="M773.0,253.8 Q786.1,262.3 793.9,273.6" fill="none" stroke="#8E8A80" stroke-width="3.4" stroke-linecap="round"/>
<path d="M773.0,253.8 Q786.1,262.3 793.9,273.6" fill="none" stroke="#F2EFE7" stroke-width="2.3" stroke-linecap="round"/>
<path d="M780.3,287.0 Q782.6,270.2 800.3,258.8" fill="none" stroke="#8E8A80" stroke-width="3.4" stroke-linecap="round"/>
<path d="M780.3,287.0 Q782.6,270.2 800.3,258.8" fill="none" stroke="#F2EFE7" stroke-width="2.3" stroke-linecap="round"/>
<path d="M777.3,247.5 Q789.4,254.6 803.9,259.2" fill="none" stroke="#8E8A80" stroke-width="3.4" stroke-linecap="round"/>
<path d="M777.3,247.5 Q789.4,254.6 803.9,259.2" fill="none" stroke="#F2EFE7" stroke-width="2.3" stroke-linecap="round"/>
<path d="M765.0,270.4 Q782.8,266.7 801.0,264.7" fill="none" stroke="#8E8A80" stroke-width="3.4" stroke-linecap="round"/>
<path d="M765.0,270.4 Q782.8,266.7 801.0,264.7" fill="none" stroke="#F2EFE7" stroke-width="2.3" stroke-linecap="round"/>
<path d="M797.0,264.9 Q810.4,264.3 822.7,260.4" fill="none" stroke="#8E8A80" stroke-width="3.4" stroke-linecap="round"/>
<path d="M797.0,264.9 Q810.4,264.3 822.7,260.4" fill="none" stroke="#F2EFE7" stroke-width="2.3" stroke-linecap="round"/>
<path d="M820.7,280.1 Q834.3,266.1 854.7,256.9" fill="none" stroke="#8E8A80" stroke-width="3.4" stroke-linecap="round"/>
<path d="M820.7,280.1 Q834.3,266.1 854.7,256.9" fill="none" stroke="#F2EFE7" stroke-width="2.3" stroke-linecap="round"/>
<path d="M840.1,291.3 Q854.8,285.5 856.9,273.8" fill="none" stroke="#8E8A80" stroke-width="3.4" stroke-linecap="round"/>
<path d="M840.1,291.3 Q854.8,285.5 856.9,273.8" fill="none" stroke="#F2EFE7" stroke-width="2.3" stroke-linecap="round"/>
<path d="M773.0,282.9 Q795.0,277.4 817.7,273.7" fill="none" stroke="#8E8A80" stroke-width="3.4" stroke-linecap="round"/>
<path d="M773.0,282.9 Q795.0,277.4 817.7,273.7" fill="none" stroke="#F2EFE7" stroke-width="2.3" stroke-linecap="round"/>
<path d="M792.3,279.4 Q814.3,281.3 833.1,273.1" fill="none" stroke="#8E8A80" stroke-width="3.4" stroke-linecap="round"/>
<path d="M792.3,279.4 Q814.3,281.3 833.1,273.1" fill="none" stroke="#F2EFE7" stroke-width="2.3" stroke-linecap="round"/>
<path d="M810.6,279.0 Q824.3,274.5 836.6,280.8" fill="none" stroke="#8E8A80" stroke-width="3.4" stroke-linecap="round"/>
<path d="M810.6,279.0 Q824.3,274.5 836.6,280.8" fill="none" stroke="#F2EFE7" stroke-width="2.3" stroke-linecap="round"/>
<path d="M816.8,263.8 Q830.8,264.4 840.2,271.6" fill="none" stroke="#8E8A80" stroke-width="3.4" stroke-linecap="round"/>
<path d="M816.8,263.8 Q830.8,264.4 840.2,271.6" fill="none" stroke="#F2EFE7" stroke-width="2.3" stroke-linecap="round"/>
<ellipse cx="858.1" cy="261.7" rx="2.7" ry="2.2" fill="#3D6FC6"/>
<ellipse cx="784.4" cy="265.5" rx="2.7" ry="2.2" fill="#E6C23A"/>
<ellipse cx="813.7" cy="272.4" rx="2.7" ry="2.2" fill="#E6C23A"/>
<ellipse cx="830.2" cy="264.5" rx="2.7" ry="2.2" fill="#E6C23A"/>
<ellipse cx="834.5" cy="261.8" rx="2.7" ry="2.2" fill="#E6C23A"/>
<ellipse cx="833.0" cy="277.9" rx="2.7" ry="2.2" fill="#E6C23A"/>
<ellipse cx="831.2" cy="273.9" rx="2.7" ry="2.2" fill="#3D6FC6"/>
<ellipse cx="791.0" cy="257.0" rx="2.7" ry="2.2" fill="#E6C23A"/>
<ellipse cx="799.1" cy="264.7" rx="2.7" ry="2.2" fill="#3D6FC6"/>
<ellipse cx="799.8" cy="279.3" rx="2.7" ry="2.2" fill="#E6C23A"/>
<ellipse cx="788.1" cy="256.3" rx="2.7" ry="2.2" fill="#E6C23A"/>
<ellipse cx="820.4" cy="261.6" rx="2.7" ry="2.2" fill="#E6C23A"/>
<ellipse cx="806.4" cy="278.8" rx="2.7" ry="2.2" fill="#E07A5A"/>
<ellipse cx="852.2" cy="265.7" rx="2.7" ry="2.2" fill="#3D6FC6"/>
<ellipse cx="816.4" cy="278.9" rx="2.7" ry="2.2" fill="#E07A5A"/>
<ellipse cx="853.0" cy="262.2" rx="2.7" ry="2.2" fill="#E6C23A"/>
<ellipse cx="700" cy="381" rx="7" ry="5" fill="#fff" filter="url(#blur2)"/>
<ellipse cx="748" cy="381" rx="7" ry="5" fill="#fff" filter="url(#blur2)"/>
<path d="M694,386 C691,368 703,353 723,353 C741,353 752,366 752,381 C752,388 750,393 747,398 L745,403 C738,404.5 728,404 721,403 C710,401.5 701,397 697,392.5 C695.5,390.5 694.3,388.5 694,386 Z" fill="url(#skull)"/>
<path d="M701,362 C710,353 735,351 746,362 C750,367 752,373 752,380" fill="none" stroke="#4A4A4A" stroke-width="1.4" opacity="0.6" filter="url(#blur1)"/>
<path d="M722,388 C730,384 742,384 750,388 L747,401 C740,404 728,404 720,402.5 Z" fill="#7A7A7A" opacity="0.35" filter="url(#blur1)"/>
<path d="M733,391 C737,388 744,387 748,390 L749,398 C746,401 741,402 737,401 Z" fill="#B4B4B4"/>
<path d="M712,398 L722,403.5 L733,403.8 L740,401 L728,398.5 Z" fill="#9A9A9A"/>
<ellipse cx="719.5" cy="396.5" rx="1.8" ry="3" fill="#505050" opacity="0.7"/>
<ellipse cx="729" cy="395" rx="3" ry="1.8" fill="#606060" opacity="0.6"/>
<ellipse cx="746" cy="393" rx="1.4" ry="2.8" fill="#444" opacity="0.7"/>
<ellipse cx="725" cy="401" rx="2.5" ry="1.3" fill="#6a6a6a" opacity="0.6"/>
<circle cx="715.4" cy="370.4" r="6.4" fill="#8FAADC" stroke="#7A98D0" stroke-width="0.5"/>
<rect x="46" y="520" width="201" height="110" fill="#fff"/>
<rect x="50" y="585" width="55" height="42" fill="url(#shadowL)" opacity="0.35" filter="url(#blur4)"/>
<path d="M94.7,614.6 L191,596.5 L240.3,608 L147.3,628.8 Z" fill="#ACE2E6"/>
<path d="M94.7,614.6 L147.3,628.8 L240.3,608 L240.3,609.5 L147.3,630.3 L94.7,616 Z" fill="#7CCAD2"/>
<polyline points="107.1,569.0 106.1,570.8 105.2,572.6 104.5,574.4 104.0,576.2 103.8,578.1 104.0,579.9 104.5,581.7 105.3,583.5 106.4,585.3 107.7,587.1 109.2,588.9 110.9,590.8 112.5,592.6 114.0,594.4 115.3,596.2 116.4,598.0 117.2,599.8 117.7,601.6 117.9,603.4 117.7,605.2 117.2,607.1 116.5,608.9 115.6,610.7 114.6,612.5" fill="none" stroke="#4F4FC8" stroke-width="0.9" opacity="0.9"/>
<path d="M114.6,612.5 q3,5 6,10" fill="none" stroke="#4F4FC8" stroke-width="0.8" opacity="0.35"/>
<polyline points="119.9,567.8 118.9,569.6 118.0,571.4 117.3,573.3 116.8,575.1 116.6,576.9 116.8,578.7 117.3,580.6 118.1,582.4 119.2,584.2 120.5,586.0 122.0,587.9 123.7,589.7 125.3,591.5 126.8,593.3 128.1,595.1 129.2,597.0 130.0,598.8 130.5,600.6 130.7,602.4 130.5,604.3 130.0,606.1 129.3,607.9 128.4,609.7 127.4,611.5" fill="none" stroke="#4F4FC8" stroke-width="0.9" opacity="0.9"/>
<path d="M127.4,611.5 q3,5 6,10" fill="none" stroke="#4F4FC8" stroke-width="0.8" opacity="0.35"/>
<polyline points="119.7,569.0 119.0,570.8 118.5,572.5 118.4,574.3 118.6,576.1 119.1,577.9 119.9,579.6 121.0,581.4 122.4,583.2 123.9,585.0 125.6,586.7 127.2,588.5 128.7,590.3 130.0,592.0 131.1,593.8 131.8,595.6 132.3,597.4 132.4,599.1 132.2,600.9 131.7,602.7 130.9,604.5 130.0,606.2 129.0,608.0 128.1,609.8 127.2,611.5" fill="none" stroke="#4FAA4A" stroke-width="0.9" opacity="0.9"/>
<path d="M129.8,611.5 q3,5 6,10" fill="none" stroke="#4FAA4A" stroke-width="0.8" opacity="0.35"/>
<polyline points="120.2,570.2 120.1,571.9 120.3,573.6 120.9,575.4 121.8,577.1 122.9,578.8 124.3,580.5 125.9,582.3 127.5,584.0 129.1,585.7 130.6,587.4 131.9,589.2 132.9,590.9 133.7,592.6 134.1,594.3 134.1,596.0 133.9,597.8 133.4,599.5 132.6,601.2 131.7,602.9 130.7,604.7 129.7,606.4 128.8,608.1 128.2,609.8 127.7,611.5" fill="none" stroke="#D2504A" stroke-width="0.9" opacity="0.9"/>
<path d="M132.2,611.5 q3,5 6,10" fill="none" stroke="#D2504A" stroke-width="0.8" opacity="0.35"/>
<polyline points="122.1,571.4 122.7,573.1 123.6,574.7 124.8,576.4 126.2,578.1 127.8,579.8 129.4,581.4 131.0,583.1 132.4,584.8 133.7,586.5 134.7,588.1 135.5,589.8 135.8,591.5 135.9,593.1 135.6,594.8 135.0,596.5 134.2,598.2 133.3,599.8 132.3,601.5 131.4,603.2 130.5,604.9 129.9,606.5 129.5,608.2 129.4,609.9 129.6,611.5" fill="none" stroke="#D6A832" stroke-width="0.9" opacity="0.9"/>
<path d="M134.6,611.5 q3,5 6,10" fill="none" stroke="#D6A832" stroke-width="0.8" opacity="0.35"/>
<polyline points="132.6,566.6 131.6,568.4 130.7,570.3 130.0,572.1 129.5,573.9 129.3,575.8 129.5,577.6 130.0,579.4 130.8,581.3 131.9,583.1 133.2,584.9 134.7,586.8 136.3,588.6 138.0,590.4 139.5,592.3 140.8,594.1 141.9,595.9 142.7,597.8 143.2,599.6 143.4,601.4 143.2,603.3 142.7,605.1 142.0,606.9 141.1,608.8 140.1,610.6" fill="none" stroke="#4F4FC8" stroke-width="0.9" opacity="0.9"/>
<path d="M140.1,610.6 q3,5 6,10" fill="none" stroke="#4F4FC8" stroke-width="0.8" opacity="0.35"/>
<polyline points="132.4,567.8 131.7,569.6 131.2,571.4 131.1,573.2 131.3,574.9 131.8,576.7 132.6,578.5 133.7,580.3 135.1,582.1 136.6,583.9 138.3,585.6 139.9,587.4 141.4,589.2 142.7,591.0 143.8,592.8 144.5,594.6 145.0,596.3 145.1,598.1 144.9,599.9 144.4,601.7 143.6,603.5 142.7,605.3 141.7,607.0 140.8,608.8 139.9,610.6" fill="none" stroke="#4FAA4A" stroke-width="0.9" opacity="0.9"/>
<path d="M142.5,610.6 q3,5 6,10" fill="none" stroke="#4FAA4A" stroke-width="0.8" opacity="0.35"/>
<polyline points="132.9,569.0 132.8,570.7 133.0,572.5 133.6,574.2 134.5,575.9 135.6,577.7 137.0,579.4 138.6,581.1 140.2,582.9 141.8,584.6 143.3,586.3 144.6,588.1 145.6,589.8 146.4,591.5 146.8,593.3 146.8,595.0 146.6,596.7 146.1,598.5 145.3,600.2 144.4,601.9 143.4,603.7 142.4,605.4 141.5,607.1 140.9,608.9 140.4,610.6" fill="none" stroke="#D2504A" stroke-width="0.9" opacity="0.9"/>
<path d="M144.9,610.6 q3,5 6,10" fill="none" stroke="#D2504A" stroke-width="0.8" opacity="0.35"/>
<polyline points="134.8,570.2 135.4,571.9 136.3,573.6 137.5,575.2 138.9,576.9 140.5,578.6 142.1,580.3 143.7,582.0 145.1,583.7 146.4,585.4 147.4,587.0 148.2,588.7 148.5,590.4 148.6,592.1 148.3,593.8 147.7,595.5 146.9,597.1 146.0,598.8 145.0,600.5 144.1,602.2 143.2,603.9 142.6,605.6 142.2,607.2 142.1,608.9 142.3,610.6" fill="none" stroke="#D6A832" stroke-width="0.9" opacity="0.9"/>
<path d="M147.3,610.6 q3,5 6,10" fill="none" stroke="#D6A832" stroke-width="0.8" opacity="0.35"/>
<polyline points="144.5,563.4 143.5,565.3 142.6,567.3 141.9,569.2 141.4,571.1 141.2,573.0 141.4,575.0 141.9,576.9 142.7,578.8 143.8,580.7 145.1,582.7 146.6,584.6 148.2,586.5 149.9,588.5 151.4,590.4 152.7,592.3 153.8,594.2 154.6,596.2 155.1,598.1 155.3,600.0 155.1,601.9 154.6,603.9 153.9,605.8 153.0,607.7 152.0,609.6" fill="none" stroke="#4F4FC8" stroke-width="0.9" opacity="0.9"/>
<path d="M152.0,609.6 q3,5 6,10" fill="none" stroke="#4F4FC8" stroke-width="0.8" opacity="0.35"/>
<polyline points="144.3,564.6 143.6,566.5 143.1,568.4 143.0,570.2 143.2,572.1 143.7,574.0 144.5,575.9 145.6,577.7 147.0,579.6 148.5,581.5 150.2,583.4 151.8,585.2 153.3,587.1 154.6,589.0 155.7,590.9 156.4,592.8 156.9,594.6 157.0,596.5 156.8,598.4 156.3,600.3 155.5,602.1 154.6,604.0 153.6,605.9 152.7,607.8 151.8,609.6" fill="none" stroke="#4FAA4A" stroke-width="0.9" opacity="0.9"/>
<path d="M154.4,609.6 q3,5 6,10" fill="none" stroke="#4FAA4A" stroke-width="0.8" opacity="0.35"/>
<polyline points="144.8,565.8 144.7,567.6 144.9,569.5 145.5,571.3 146.4,573.1 147.5,574.9 148.9,576.8 150.5,578.6 152.1,580.4 153.7,582.2 155.2,584.1 156.5,585.9 157.5,587.7 158.3,589.6 158.7,591.4 158.7,593.2 158.5,595.0 158.0,596.9 157.2,598.7 156.3,600.5 155.3,602.3 154.3,604.2 153.4,606.0 152.8,607.8 152.3,609.6" fill="none" stroke="#D2504A" stroke-width="0.9" opacity="0.9"/>
<path d="M156.8,609.6 q3,5 6,10" fill="none" stroke="#D2504A" stroke-width="0.8" opacity="0.35"/>
<polyline points="146.7,567.0 147.3,568.8 148.2,570.6 149.4,572.3 150.8,574.1 152.4,575.9 154.0,577.7 155.6,579.4 157.0,581.2 158.3,583.0 159.3,584.8 160.1,586.5 160.4,588.3 160.5,590.1 160.2,591.9 159.6,593.7 158.8,595.4 157.9,597.2 156.9,599.0 156.0,600.8 155.1,602.5 154.5,604.3 154.1,606.1 154.0,607.9 154.2,609.6" fill="none" stroke="#D6A832" stroke-width="0.9" opacity="0.9"/>
<path d="M159.2,609.6 q3,5 6,10" fill="none" stroke="#D6A832" stroke-width="0.8" opacity="0.35"/>
<polyline points="156.4,567.0 155.4,568.7 154.5,570.5 153.8,572.2 153.3,574.0 153.1,575.7 153.3,577.4 153.8,579.2 154.6,580.9 155.7,582.6 157.0,584.4 158.5,586.1 160.2,587.9 161.8,589.6 163.3,591.3 164.6,593.1 165.7,594.8 166.5,596.5 167.0,598.3 167.2,600.0 167.0,601.8 166.5,603.5 165.8,605.2 164.9,607.0 163.9,608.7" fill="none" stroke="#4F4FC8" stroke-width="0.9" opacity="0.9"/>
<path d="M163.9,608.7 q3,5 6,10" fill="none" stroke="#4F4FC8" stroke-width="0.8" opacity="0.35"/>
<polyline points="156.2,568.2 155.5,569.9 155.0,571.6 154.9,573.3 155.1,575.0 155.6,576.6 156.4,578.3 157.5,580.0 158.9,581.7 160.4,583.4 162.1,585.1 163.7,586.8 165.2,588.5 166.5,590.1 167.6,591.8 168.3,593.5 168.8,595.2 168.9,596.9 168.7,598.6 168.2,600.3 167.4,602.0 166.5,603.6 165.5,605.3 164.6,607.0 163.7,608.7" fill="none" stroke="#4FAA4A" stroke-width="0.9" opacity="0.9"/>
<path d="M166.3,608.7 q3,5 6,10" fill="none" stroke="#4FAA4A" stroke-width="0.8" opacity="0.35"/>
<polyline points="156.7,569.4 156.6,571.0 156.8,572.7 157.4,574.3 158.3,575.9 159.4,577.6 160.8,579.2 162.4,580.9 164.0,582.5 165.6,584.1 167.1,585.8 168.4,587.4 169.4,589.0 170.2,590.7 170.6,592.3 170.6,594.0 170.4,595.6 169.9,597.2 169.1,598.9 168.2,600.5 167.2,602.1 166.2,603.8 165.3,605.4 164.7,607.1 164.2,608.7" fill="none" stroke="#D2504A" stroke-width="0.9" opacity="0.9"/>
<path d="M168.7,608.7 q3,5 6,10" fill="none" stroke="#D2504A" stroke-width="0.8" opacity="0.35"/>
<polyline points="158.6,570.6 159.2,572.2 160.1,573.8 161.3,575.4 162.7,577.0 164.3,578.5 165.9,580.1 167.5,581.7 168.9,583.3 170.2,584.9 171.2,586.5 172.0,588.1 172.3,589.7 172.4,591.2 172.1,592.8 171.5,594.4 170.7,596.0 169.8,597.6 168.8,599.2 167.9,600.8 167.0,602.4 166.4,603.9 166.0,605.5 165.9,607.1 166.1,608.7" fill="none" stroke="#D6A832" stroke-width="0.9" opacity="0.9"/>
<path d="M171.1,608.7 q3,5 6,10" fill="none" stroke="#D6A832" stroke-width="0.8" opacity="0.35"/>
<polyline points="168.4,565.8 167.4,567.5 166.5,569.3 165.8,571.0 165.3,572.8 165.1,574.5 165.3,576.3 165.8,578.0 166.6,579.8 167.7,581.5 169.0,583.3 170.5,585.0 172.2,586.8 173.8,588.5 175.3,590.3 176.6,592.0 177.7,593.8 178.5,595.5 179.0,597.3 179.2,599.0 179.0,600.8 178.5,602.5 177.8,604.3 176.9,606.0 175.9,607.8" fill="none" stroke="#4F4FC8" stroke-width="0.9" opacity="0.9"/>
<path d="M175.9,607.8 q3,5 6,10" fill="none" stroke="#4F4FC8" stroke-width="0.8" opacity="0.35"/>
<polyline points="168.2,567.0 167.5,568.7 167.0,570.4 166.9,572.1 167.1,573.8 167.6,575.5 168.4,577.2 169.5,578.9 170.9,580.6 172.4,582.3 174.1,584.0 175.7,585.7 177.2,587.4 178.5,589.1 179.6,590.8 180.3,592.5 180.8,594.2 180.9,595.9 180.7,597.6 180.2,599.3 179.4,601.0 178.5,602.7 177.5,604.4 176.6,606.1 175.7,607.8" fill="none" stroke="#4FAA4A" stroke-width="0.9" opacity="0.9"/>
<path d="M178.3,607.8 q3,5 6,10" fill="none" stroke="#4FAA4A" stroke-width="0.8" opacity="0.35"/>
<polyline points="168.7,568.2 168.6,569.8 168.8,571.5 169.4,573.1 170.3,574.8 171.4,576.4 172.8,578.1 174.4,579.7 176.0,581.4 177.6,583.0 179.1,584.7 180.4,586.3 181.4,588.0 182.2,589.6 182.6,591.3 182.6,592.9 182.4,594.6 181.9,596.2 181.1,597.9 180.2,599.5 179.2,601.2 178.2,602.8 177.3,604.5 176.7,606.1 176.2,607.8" fill="none" stroke="#D2504A" stroke-width="0.9" opacity="0.9"/>
<path d="M180.7,607.8 q3,5 6,10" fill="none" stroke="#D2504A" stroke-width="0.8" opacity="0.35"/>
<polyline points="170.6,569.4 171.2,571.0 172.1,572.6 173.3,574.2 174.7,575.8 176.3,577.4 177.9,579.0 179.5,580.6 180.9,582.2 182.2,583.8 183.2,585.4 184.0,587.0 184.3,588.6 184.4,590.2 184.1,591.8 183.5,593.4 182.7,595.0 181.8,596.6 180.8,598.2 179.9,599.8 179.0,601.4 178.4,603.0 178.0,604.6 177.9,606.2 178.1,607.8" fill="none" stroke="#D6A832" stroke-width="0.9" opacity="0.9"/>
<path d="M183.1,607.8 q3,5 6,10" fill="none" stroke="#D6A832" stroke-width="0.8" opacity="0.35"/>
<polyline points="179.5,564.6 178.5,566.4 177.6,568.1 176.9,569.9 176.4,571.6 176.2,573.4 176.4,575.1 176.9,576.9 177.7,578.7 178.8,580.4 180.1,582.2 181.6,583.9 183.2,585.7 184.9,587.5 186.4,589.2 187.7,591.0 188.8,592.7 189.6,594.5 190.1,596.2 190.3,598.0 190.1,599.8 189.6,601.5 188.9,603.3 188.0,605.0 187.0,606.8" fill="none" stroke="#4F4FC8" stroke-width="0.9" opacity="0.9"/>
<path d="M187.0,606.8 q3,5 6,10" fill="none" stroke="#4F4FC8" stroke-width="0.8" opacity="0.35"/>
<polyline points="179.3,565.8 178.6,567.5 178.1,569.2 178.0,570.9 178.2,572.6 178.7,574.3 179.5,576.1 180.6,577.8 182.0,579.5 183.5,581.2 185.2,582.9 186.8,584.6 188.3,586.3 189.6,588.0 190.7,589.7 191.4,591.4 191.9,593.1 192.0,594.8 191.8,596.6 191.3,598.3 190.5,600.0 189.6,601.7 188.6,603.4 187.7,605.1 186.8,606.8" fill="none" stroke="#4FAA4A" stroke-width="0.9" opacity="0.9"/>
<path d="M189.4,606.8 q3,5 6,10" fill="none" stroke="#4FAA4A" stroke-width="0.8" opacity="0.35"/>
<polyline points="179.8,567.0 179.7,568.7 179.9,570.3 180.5,572.0 181.4,573.6 182.5,575.3 183.9,576.9 185.5,578.6 187.1,580.3 188.7,581.9 190.2,583.6 191.5,585.2 192.5,586.9 193.3,588.6 193.7,590.2 193.7,591.9 193.5,593.5 193.0,595.2 192.2,596.8 191.3,598.5 190.3,600.2 189.3,601.8 188.4,603.5 187.8,605.1 187.3,606.8" fill="none" stroke="#D2504A" stroke-width="0.9" opacity="0.9"/>
<path d="M191.8,606.8 q3,5 6,10" fill="none" stroke="#D2504A" stroke-width="0.8" opacity="0.35"/>
<polyline points="181.7,568.2 182.3,569.8 183.2,571.4 184.4,573.0 185.8,574.6 187.4,576.2 189.0,577.9 190.6,579.5 192.0,581.1 193.3,582.7 194.3,584.3 195.1,585.9 195.4,587.5 195.5,589.1 195.2,590.7 194.6,592.3 193.8,593.9 192.9,595.5 191.9,597.1 191.0,598.8 190.1,600.4 189.5,602.0 189.1,603.6 189.0,605.2 189.2,606.8" fill="none" stroke="#D6A832" stroke-width="0.9" opacity="0.9"/>
<path d="M194.2,606.8 q3,5 6,10" fill="none" stroke="#D6A832" stroke-width="0.8" opacity="0.35"/>
<polyline points="190.7,565.4 189.7,567.1 188.8,568.8 188.1,570.5 187.6,572.1 187.4,573.8 187.6,575.5 188.1,577.2 188.9,578.9 190.0,580.6 191.3,582.3 192.8,583.9 194.5,585.6 196.1,587.3 197.6,589.0 198.9,590.7 200.0,592.4 200.8,594.1 201.3,595.7 201.5,597.4 201.3,599.1 200.8,600.8 200.1,602.5 199.2,604.2 198.2,605.9" fill="none" stroke="#4F4FC8" stroke-width="0.9" opacity="0.9"/>
<path d="M198.2,605.9 q3,5 6,10" fill="none" stroke="#4F4FC8" stroke-width="0.8" opacity="0.35"/>
<polyline points="190.5,566.6 189.8,568.2 189.3,569.9 189.2,571.5 189.4,573.1 189.9,574.8 190.7,576.4 191.8,578.0 193.2,579.7 194.7,581.3 196.4,583.0 198.0,584.6 199.5,586.2 200.8,587.9 201.9,589.5 202.6,591.1 203.1,592.8 203.2,594.4 203.0,596.0 202.5,597.7 201.7,599.3 200.8,600.9 199.8,602.6 198.9,604.2 198.0,605.9" fill="none" stroke="#4FAA4A" stroke-width="0.9" opacity="0.9"/>
<path d="M200.6,605.9 q3,5 6,10" fill="none" stroke="#4FAA4A" stroke-width="0.8" opacity="0.35"/>
<polyline points="191.0,567.8 190.9,569.4 191.1,571.0 191.7,572.6 192.6,574.1 193.7,575.7 195.1,577.3 196.7,578.9 198.3,580.5 199.9,582.1 201.4,583.7 202.7,585.2 203.7,586.8 204.5,588.4 204.9,590.0 204.9,591.6 204.7,593.2 204.2,594.8 203.4,596.3 202.5,597.9 201.5,599.5 200.5,601.1 199.6,602.7 199.0,604.3 198.5,605.9" fill="none" stroke="#D2504A" stroke-width="0.9" opacity="0.9"/>
<path d="M203.0,605.9 q3,5 6,10" fill="none" stroke="#D2504A" stroke-width="0.8" opacity="0.35"/>
<polyline points="192.9,569.0 193.5,570.5 194.4,572.1 195.6,573.6 197.0,575.1 198.6,576.7 200.2,578.2 201.8,579.7 203.2,581.3 204.5,582.8 205.5,584.4 206.3,585.9 206.6,587.4 206.7,589.0 206.4,590.5 205.8,592.0 205.0,593.6 204.1,595.1 203.1,596.6 202.2,598.2 201.3,599.7 200.7,601.2 200.3,602.8 200.2,604.3 200.4,605.9" fill="none" stroke="#D6A832" stroke-width="0.9" opacity="0.9"/>
<path d="M205.4,605.9 q3,5 6,10" fill="none" stroke="#D6A832" stroke-width="0.8" opacity="0.35"/>
<polyline points="201.8,569.0 200.8,570.5 199.9,572.0 199.2,573.5 198.7,575.0 198.5,576.5 198.7,578.0 199.2,579.5 200.0,581.0 201.1,582.5 202.4,584.0 203.9,585.5 205.6,587.0 207.2,588.4 208.7,589.9 210.0,591.4 211.1,592.9 211.9,594.4 212.4,595.9 212.6,597.4 212.4,598.9 211.9,600.4 211.2,601.9 210.3,603.4 209.3,604.9" fill="none" stroke="#4F4FC8" stroke-width="0.9" opacity="0.9"/>
<path d="M209.3,604.9 q3,5 6,10" fill="none" stroke="#4F4FC8" stroke-width="0.8" opacity="0.35"/>
<polyline points="201.6,570.2 200.9,571.6 200.4,573.1 200.3,574.5 200.5,576.0 201.0,577.4 201.8,578.9 202.9,580.3 204.3,581.8 205.8,583.2 207.5,584.7 209.1,586.1 210.6,587.6 211.9,589.0 213.0,590.4 213.7,591.9 214.2,593.3 214.3,594.8 214.1,596.2 213.6,597.7 212.8,599.1 211.9,600.6 210.9,602.0 210.0,603.5 209.1,604.9" fill="none" stroke="#4FAA4A" stroke-width="0.9" opacity="0.9"/>
<path d="M211.7,604.9 q3,5 6,10" fill="none" stroke="#4FAA4A" stroke-width="0.8" opacity="0.35"/>
<polyline points="202.1,571.4 202.0,572.8 202.2,574.2 202.8,575.6 203.7,577.0 204.8,578.4 206.2,579.8 207.8,581.2 209.4,582.6 211.0,584.0 212.5,585.4 213.8,586.8 214.8,588.1 215.6,589.5 216.0,590.9 216.0,592.3 215.8,593.7 215.3,595.1 214.5,596.5 213.6,597.9 212.6,599.3 211.6,600.7 210.7,602.1 210.1,603.5 209.6,604.9" fill="none" stroke="#D2504A" stroke-width="0.9" opacity="0.9"/>
<path d="M214.1,604.9 q3,5 6,10" fill="none" stroke="#D2504A" stroke-width="0.8" opacity="0.35"/>
<polyline points="204.0,572.6 204.6,573.9 205.5,575.3 206.7,576.6 208.1,578.0 209.7,579.3 211.3,580.7 212.9,582.0 214.3,583.4 215.6,584.7 216.6,586.1 217.4,587.4 217.7,588.8 217.8,590.1 217.5,591.4 216.9,592.8 216.1,594.1 215.2,595.5 214.2,596.8 213.3,598.2 212.4,599.5 211.8,600.9 211.4,602.2 211.3,603.6 211.5,604.9" fill="none" stroke="#D6A832" stroke-width="0.9" opacity="0.9"/>
<path d="M216.5,604.9 q3,5 6,10" fill="none" stroke="#D6A832" stroke-width="0.8" opacity="0.35"/>
<polyline points="215.9,571.4 216.5,572.8 217.4,574.1 218.6,575.5 220.0,576.8 221.6,578.2 223.2,579.5 224.8,580.9 226.2,582.2 227.5,583.6 228.5,585.0 229.3,586.3 229.6,587.7 229.7,589.0 229.4,590.4 228.8,591.7 228.0,593.1 227.1,594.5 226.1,595.8 225.2,597.2 224.3,598.5 223.7,599.9 223.3,601.2 223.2,602.6 223.4,604.0" fill="none" stroke="#D6A832" stroke-width="0.9" opacity="0.9"/>
<path d="M228.4,604.0 q3,5 6,10" fill="none" stroke="#D6A832" stroke-width="0.8" opacity="0.35"/>
<rect x="150.3" y="527" width="20.5" height="28.5" fill="url(#nozz2)"/>
<rect x="150.3" y="527" width="9.5" height="28.5" fill="#000" opacity="0.08"/>
<path d="M155.5,555.5 L166.5,555.5 L163.8,561.8 L158.2,561.8 Z" fill="#111"/>
<linearGradient id="nanobg" x1="0" y1="0" x2="0" y2="1"><stop offset="0" stop-color="#FFFFFF"/><stop offset="0.5" stop-color="#FAFAFA"/><stop offset="1" stop-color="#F1F1F1"/></linearGradient>
<rect x="297" y="545" width="151" height="92" fill="url(#nanobg)"/>
<path d="M311.3,607.9 L433.1,607.9 L439.8,630.8 L306.5,630.8 Z" fill="url(#slide)" stroke="#D0E2E2" stroke-width="0.5"/>
<path d="M306.5,630.0 L439.8,630.0 L439.8,632.4 L306.5,632.4 Z" fill="#86D8C4"/>
<circle cx="347.7" cy="625" r="6.5" fill="#C8D0E0" opacity="0.35"/>
<circle cx="347.7" cy="611.1" r="7.3" fill="url(#sphO)"/>
<circle cx="348.5" cy="614.0" r="4.9" fill="url(#sphI)"/>
<circle cx="372.8" cy="625" r="6.5" fill="#C8D0E0" opacity="0.35"/>
<circle cx="372.8" cy="611.1" r="7.3" fill="url(#sphO)"/>
<circle cx="373.6" cy="614.0" r="4.9" fill="url(#sphI)"/>
<circle cx="398.2" cy="625" r="6.5" fill="#C8D0E0" opacity="0.35"/>
<circle cx="398.2" cy="611.1" r="7.3" fill="url(#sphO)"/>
<circle cx="399.0" cy="614.0" r="4.9" fill="url(#sphI)"/>
<path d="M357.9,592.7 L367.5,599.8" stroke="#3A6CC8" stroke-width="2"/>
<path d="M371.2,602.6 L364.2,601.6 L368.6,595.8 Z" fill="#3A6CC8"/>
<rect x="398.3" y="545" width="16.7" height="26.5" fill="url(#nozz2)"/>
<rect x="398.3" y="545" width="7" height="26.5" fill="#000" opacity="0.08"/>
<path d="M400.5,571.5 L412.8,571.5 L409.5,577.5 L403.8,577.5 Z" fill="#111"/>
<path d="M406.2,579.5 Q411.5,588 410.5,592.5 Q406.2,598 401.9,592.5 Q400.9,588 406.2,579.5 Z" fill="#E99A9A"/>
<rect x="171.6" y="712" width="170" height="61" fill="#fff"/>
<ellipse cx="213" cy="737.6" rx="30" ry="2.8" fill="#000" opacity="0.16" filter="url(#blur2)"/>
<line x1="191.2" y1="733" x2="244.8" y2="733" stroke="#8C8C8C" stroke-width="1.5"/>
<line x1="197" y1="729" x2="211.4" y2="729" stroke="#333" stroke-width="1.5"/>
<line x1="213.4" y1="729" x2="227.4" y2="729" stroke="#333" stroke-width="1.5"/>
<line x1="211.2" y1="729.6" x2="211.2" y2="721.5" stroke="#333" stroke-width="0.8"/>
<line x1="213.5" y1="729.6" x2="213.5" y2="721.5" stroke="#333" stroke-width="0.8"/>
<circle cx="205.7" cy="718.4" r="4.9" fill="#74DC90"/>
<circle cx="218.9" cy="718.4" r="4.9" fill="#F2B6A4"/>
<text x="203.6" y="720.9" font-size="7" font-weight="bold" fill="#1E6B3A">F</text>
<text x="216.2" y="720.9" font-size="7" font-weight="bold" fill="#3A5A3A">Q</text>
<line x1="246.5" y1="726.6" x2="261.5" y2="726.6" stroke="#8FAADC" stroke-width="0.9"/>
<path d="M266.3,726.6 L261,723.9 L261,729.3 Z" fill="#2F5EBE"/>
<rect x="261.6" y="663.7" width="20.2" height="35.4" fill="url(#nozz2)"/>
<rect x="261.6" y="683" width="6" height="16" fill="#000" opacity="0.08"/>
<path d="M265,699.1 L278.4,699.1 L277.4,704.5 L274.6,706.8 L268.8,706.8 L266,704.5 Z" fill="#0A0A0A"/>
<rect x="271" y="706.5" width="1.8" height="2.5" fill="#999"/>
<path d="M272,708.6 Q276.6,715.8 275.6,718.8 Q272,723.2 268.4,718.8 Q267.4,715.8 272,708.6 Z" fill="#A4C6EC"/>
<path d="M216.4,748.4 L250.2,748.4 L250.2,745 L324.7,745 L340.4,769.9 L202.8,769.9 Z" fill="url(#chip)"/>
<path d="M202.8,769.9 L340.4,769.9 L340.4,771 L202.8,771 Z" fill="#A6A6A6"/>
<path d="M244,751.5 L251.5,755.3 M259.5,751 L251.5,755.3 L249.2,759.7 M268.5,751.2 L281.5,751.2 M267,755.3 L279,755.3 M265.6,759.4 L279.6,759.4 M268.5,751.2 L265.6,759.4 M301,752.6 C299,750.4 289,750.4 287,752.4 C285,754.6 300,754.2 300.2,757 C300.4,760.2 288,760.8 284.2,758.6" fill="none" stroke="#7895CC" stroke-width="1.8" stroke-linecap="round" stroke-linejoin="round"/>
<path d="M725.24,502.93 L732.47,506.83 L732.47,527.20 L728.37,526.36 L725.00,522.46 Z" fill="#969696"/>
<path d="M732.47,506.83 L748.86,505.16 L749.10,524.13 Q749.10,526.36 747.17,526.36 L732.47,527.20 Z" fill="url(#headg)"/>
<path d="M725.24,502.93 L738.98,499.30 L748.86,505.16 L732.47,506.83 Z" fill="#858585"/>
<path d="M732.47,506.83 L748.86,505.16" stroke="#ABABAB" stroke-width="0.5"/>
<path d="M732.71,526.92 L743.32,526.36 L742.83,530.24 L735.85,531.00 L733.19,529.86 Z" fill="#A2A2A2"/>
<ellipse cx="737.1" cy="540.4" rx="3.5" ry="4.2" fill="url(#cellg)"/>
<ellipse cx="737.3000000000001" cy="540.1999999999999" rx="1.05" ry="1.26" fill="#5A2A10"/>
<polygon points="674.2,570.2 750.8,581.1 750.8,584.7 674.2,573.8" fill="#B4B4B4"/>
<polygon points="750.8,581.1 790.7,556.2 790.7,559.8 750.8,584.7" fill="#8A8A8A"/>
<polygon points="674.2,570.2 714.1,545.3 790.7,556.2 750.8,581.1" fill="url(#slabg)"/>
<circle cx="710.2" cy="551.8" r="2.4" fill="url(#ydot)"/>
<circle cx="715.0" cy="552.6" r="2.4" fill="url(#ydot)"/>
<circle cx="719.0" cy="553.8" r="2.4" fill="url(#ydot)"/>
<circle cx="722.8" cy="555.3" r="2.4" fill="url(#ydot)"/>
<circle cx="715.0" cy="555.7" r="2.4" fill="url(#ydot)"/>
<circle cx="711.9" cy="557.9" r="2.4" fill="url(#ydot)"/>
<circle cx="708.1" cy="560.1" r="2.4" fill="url(#ydot)"/>
<circle cx="731.6" cy="555.7" r="2.4" fill="url(#ydot)"/>
<circle cx="728.3" cy="558.4" r="2.4" fill="url(#ydot)"/>
<circle cx="725.0" cy="561.1" r="2.4" fill="url(#ydot)"/>
<circle cx="722.3" cy="563.1" r="2.4" fill="url(#ydot)"/>
<circle cx="742.3" cy="557.9" r="2.4" fill="url(#ydot)"/>
<circle cx="739.3" cy="561.1" r="2.4" fill="url(#ydot)"/>
<circle cx="736.0" cy="563.9" r="2.4" fill="url(#ydot)"/>
<circle cx="732.7" cy="566.1" r="2.4" fill="url(#ydot)"/>
<circle cx="731.6" cy="559.2" r="2.4" fill="url(#ydot)"/>
<circle cx="735.4" cy="560.3" r="2.4" fill="url(#ydot)"/>
<circle cx="752.9" cy="558.7" r="2.4" fill="url(#ydot)"/>
<circle cx="749.1" cy="561.7" r="2.4" fill="url(#ydot)"/>
<circle cx="745.8" cy="564.4" r="2.4" fill="url(#ydot)"/>
<circle cx="745.3" cy="567.9" r="2.4" fill="url(#ydot)"/>
<circle cx="749.7" cy="569.4" r="2.4" fill="url(#ydot)"/>
<circle cx="754.0" cy="567.2" r="2.4" fill="url(#ydot)"/>
<circle cx="761.1" cy="561.4" r="2.4" fill="url(#ydot)"/>
<circle cx="757.9" cy="564.4" r="2.4" fill="url(#ydot)"/>
<path d="M606.33,564.41 L613.14,568.07 L613.14,587.20 L609.28,586.41 L606.10,582.75 Z" fill="#969696"/>
<path d="M613.14,568.07 L628.57,566.50 L628.80,584.32 Q628.80,586.41 626.98,586.41 L613.14,587.20 Z" fill="url(#headg)"/>
<path d="M606.33,564.41 L619.27,561.00 L628.57,566.50 L613.14,568.07 Z" fill="#858585"/>
<path d="M613.14,568.07 L628.57,566.50" stroke="#ABABAB" stroke-width="0.5"/>
<path d="M613.36,586.94 L623.35,586.41 L622.90,590.08 L616.31,590.80 L613.82,589.72 Z" fill="#A2A2A2"/>
<ellipse cx="617.5" cy="601" rx="3.5" ry="4.2" fill="url(#cellg)"/>
<ellipse cx="617.7" cy="600.8" rx="1.05" ry="1.26" fill="#5A2A10"/>
<polygon points="554.8,629.6 630.0,640.0 630.0,644.2 554.8,633.8" fill="#B4B4B4"/>
<polygon points="630.0,640.0 668.8,616.5 668.8,620.7 630.0,644.2" fill="#8A8A8A"/>
<polygon points="554.8,629.6 593.6,606.1 668.8,616.5 630.0,640.0" fill="url(#slabg)"/>
<circle cx="595.4" cy="612.9" r="2.3" fill="url(#ydot)"/>
<circle cx="607.9" cy="614.9" r="2.3" fill="url(#ydot)"/>
<circle cx="619.0" cy="616.9" r="2.3" fill="url(#ydot)"/>
<circle cx="630.2" cy="619.2" r="2.3" fill="url(#ydot)"/>
<circle cx="641.7" cy="621.3" r="2.3" fill="url(#ydot)"/>
<circle cx="587.6" cy="617.4" r="2.3" fill="url(#ydot)"/>
<circle cx="599.9" cy="620.1" r="2.3" fill="url(#ydot)"/>
<circle cx="611.9" cy="622.7" r="2.3" fill="url(#ydot)"/>
<circle cx="623.1" cy="624.6" r="2.3" fill="url(#ydot)"/>
<circle cx="634.5" cy="626.9" r="2.3" fill="url(#ydot)"/>
<circle cx="580.1" cy="622.8" r="2.3" fill="url(#ydot)"/>
<circle cx="592.0" cy="625.4" r="2.3" fill="url(#ydot)"/>
<circle cx="604.3" cy="627.8" r="2.3" fill="url(#ydot)"/>
<circle cx="616.4" cy="629.9" r="2.3" fill="url(#ydot)"/>
<circle cx="628.8" cy="632.0" r="2.3" fill="url(#ydot)"/>
<path d="M813.36,588.59 L818.00,591.17 L818.00,604.60 L815.37,604.05 L813.20,601.47 Z" fill="#969696"/>
<path d="M818.00,591.17 L828.55,590.06 L828.70,602.58 Q828.70,604.05 827.46,604.05 L818.00,604.60 Z" fill="url(#headg)"/>
<path d="M813.36,588.59 L822.19,586.20 L828.55,590.06 L818.00,591.17 Z" fill="#858585"/>
<path d="M818.00,591.17 L828.55,590.06" stroke="#ABABAB" stroke-width="0.5"/>
<path d="M818.16,604.42 L824.98,604.05 L824.67,606.12 L820.18,606.50 L818.47,605.93 Z" fill="#A2A2A2"/>
<ellipse cx="821" cy="612.6" rx="2.4" ry="3.3" fill="url(#cellp)"/>
<ellipse cx="821.2" cy="612.4" rx="0.72" ry="0.99" fill="#5A2A10"/>
<polygon points="791.2,628.5 824.2,633.7 824.2,636.3 791.2,631.1" fill="#B4B4B4"/>
<polygon points="824.2,633.7 845.8,620.4 845.8,623.0 824.2,636.3" fill="#8A8A8A"/>
<polygon points="791.2,628.5 812.8,615.2 845.8,620.4 824.2,633.7" fill="url(#slabg)"/>
<path d="M811,621 C812,618 815.5,618 817.5,620 C819.5,618 825.5,617.5 827.5,620.5 C828.5,623.5 824,626.5 819,627.2 C814,626.8 811.2,624.5 811,622.5 Z" fill="#6A1606"/>
<path d="M811,619.5 C812,616.5 815.5,616.5 817.5,618.5 C819.5,616.5 825.5,616 827.5,619 C828,621.5 824,624 819,625 C814,624.6 811.2,622.4 811,620.5 Z" fill="url(#heart)"/>
<line x1="843.9" y1="624" x2="852" y2="624" stroke="#B0B0B0" stroke-width="0.9"/>
<circle cx="852.3" cy="624" r="0.9" fill="#666"/>
<path d="M862.6,628.5 C857,624 855,620 857,617 C858.5,615 861.5,615.5 862.6,618 C863.5,615.5 867,615 868.5,617.5 C869.5,621 866,625 862.6,628.5 Z" fill="#C23A0E"/>
<path d="M864,618.5 C865,616.5 867.5,616.5 868,618.5 C868,621 866,623.5 864.5,625 Z" fill="#8A2006" opacity="0.6"/>
<line x1="862.6" y1="628.5" x2="862.6" y2="635" stroke="#555" stroke-width="0.6"/>
<path d="M768.21,682.80 L774.60,686.56 L774.60,706.20 L770.98,705.39 L768.00,701.63 Z" fill="#969696"/>
<path d="M774.60,686.56 L789.09,684.95 L789.30,703.24 Q789.30,705.39 787.60,705.39 L774.60,706.20 Z" fill="url(#headg)"/>
<path d="M768.21,682.80 L780.35,679.30 L789.09,684.95 L774.60,686.56 Z" fill="#858585"/>
<path d="M774.60,686.56 L789.09,684.95" stroke="#ABABAB" stroke-width="0.5"/>
<path d="M774.82,705.93 L784.19,705.39 L783.76,708.12 L777.59,708.60 L775.24,707.88 Z" fill="#A2A2A2"/>
<ellipse cx="779" cy="716.8" rx="3.0" ry="4.0" fill="url(#cellp)"/>
<ellipse cx="779.2" cy="716.5999999999999" rx="0.90" ry="1.20" fill="#5A2A10"/>
<path d="M613.13,681.52 L620.03,685.20 L620.03,704.40 L616.12,703.61 L612.90,699.93 Z" fill="#969696"/>
<path d="M620.03,685.20 L635.67,683.62 L635.90,701.51 Q635.90,703.61 634.06,703.61 L620.03,704.40 Z" fill="url(#headg)"/>
<path d="M613.13,681.52 L626.24,678.10 L635.67,683.62 L620.03,685.20 Z" fill="#858585"/>
<path d="M620.03,685.20 L635.67,683.62" stroke="#ABABAB" stroke-width="0.5"/>
<path d="M620.26,704.14 L630.38,703.61 L629.92,706.56 L623.25,707.10 L620.72,706.29 Z" fill="#A2A2A2"/>
<ellipse cx="624.6" cy="716.7" rx="3.5" ry="4.2" fill="url(#cellg)"/>
<ellipse cx="624.8000000000001" cy="716.5" rx="1.05" ry="1.26" fill="#5A2A10"/>
<polygon points="592.1,746.5 646.8,754.3 646.8,757.9 592.1,750.1" fill="#B4B4B4"/>
<polygon points="646.8,754.3 675.8,737.2 675.8,740.8 646.8,757.9" fill="#8A8A8A"/>
<polygon points="592.1,746.5 621.1,729.4 675.8,737.2 646.8,754.3" fill="url(#slabg)"/>
<circle cx="623.9" cy="739.6" r="1.5" fill="#9BE59B"/>
<circle cx="634" cy="741.6" r="1.5" fill="#9BE59B"/>
<circle cx="644.7" cy="743.5" r="1.5" fill="#9BE59B"/>
<line x1="632" y1="691.5" x2="650.5" y2="679.5" stroke="#888" stroke-width="0.4" stroke-dasharray="1 0.8"/>
<line x1="632" y1="693.5" x2="650.5" y2="706" stroke="#888" stroke-width="0.4" stroke-dasharray="1 0.8"/>
<rect x="651.2" y="671" width="38.7" height="46.8" fill="url(#inset)" stroke="#4A4A4A" stroke-width="0.8"/>
<rect x="651.6" y="671.4" width="8.2" height="46" fill="#B2B2B2"/>
<rect x="681.3" y="671.4" width="8.2" height="46" fill="#6E6E6E"/>
<line x1="659.8" y1="671" x2="659.8" y2="717.8" stroke="#555" stroke-width="0.5"/>
<line x1="681.3" y1="671" x2="681.3" y2="717.8" stroke="#444" stroke-width="0.6"/>
<rect x="681.5" y="691.3" width="4.2" height="7.1" fill="#2A2A2A"/>
<path d="M681.3,690.5 L676,694.5 L681.3,698.5 Z" fill="#fff"/>
<path d="M676.5,689.5 L680.5,690.7 M676,694.5 L673,695.8 M677,699 L680.5,698.8" stroke="#C02020" stroke-width="0.6"/>
<path d="M661.5,686 q2,-1 3,1 q2,1 3,-0.5 q1,2 3,2" fill="none" stroke="#7AAA7A" stroke-width="0.5"/>
<ellipse cx="670.4" cy="682.5" rx="5.3" ry="6.5" fill="url(#cellg)"/>
<ellipse cx="670.6" cy="682.3" rx="1.59" ry="1.95" fill="#5A2A10"/>
<ellipse cx="670.4" cy="706" rx="5.3" ry="6.5" fill="url(#cellg)"/>
<ellipse cx="670.6" cy="705.8" rx="1.59" ry="1.95" fill="#5A2A10"/>
<line x1="662.5" y1="707" x2="662.5" y2="716" stroke="#5A8A5A" stroke-width="0.4"/>
<path d="M760.0,725.4 L797.2,725.4 A13.6,13.6 0 0 1 797.2,752.5 L760.0,752.5 A13.6,13.6 0 0 1 760.0,725.4 Z" fill="url(#mouse)" stroke="#8DB8E6" stroke-width="0.8"/>
<rect x="809.7" y="734" width="5.9" height="9.7" fill="url(#mouse)" stroke="#8DB8E6" stroke-width="0.7"/>
<ellipse cx="829.8" cy="738.9" rx="15.2" ry="11.3" fill="url(#mouse)" stroke="#8DB8E6" stroke-width="0.8"/>
<path d="M766,725.6 L789.1,725.6 L789,730.5 C786,733 782,732 779,733.6 C776,734.5 774,733 771,733.2 C768,732.8 767,731 766,730.5 Z" fill="url(#redp)"/>
<path d="M793,732.5 A7,7.8 0 0 1 793,748" fill="none" stroke="#8DB8E6" stroke-width="0.8"/>
<path d="M826,742 a3,2.5 0 1 0 5,-3" fill="none" stroke="#8DB8E6" stroke-width="0.7"/>
<rect x="145.4" y="235.9" width="110.1" height="21.5" fill="#fff"/>
<rect x="164.2" y="258.0" width="72.8" height="21.5" fill="#fff"/>
<rect x="304.9" y="236.8" width="110.8" height="21.5" fill="#fff"/>
<rect x="337.3" y="259.5" width="46.2" height="21.5" fill="#fff"/>
<rect x="74.8" y="360.1" width="137.3" height="21.5" fill="#fff"/>
<rect x="294.3" y="354.0" width="171.4" height="21.5" fill="#fff"/>
<rect x="163.0" y="424.4" width="169.3" height="21.5" fill="#fff"/>
<rect x="669.5" y="199.9" width="110.0" height="21.5" fill="#fff"/>
<rect x="692.4" y="221.5" width="63.3" height="21.5" fill="#fff"/>
<rect x="562.4" y="302.7" width="126.6" height="21.5" fill="#fff"/>
<rect x="588.1" y="324.8" width="75.4" height="21.5" fill="#fff"/>
<rect x="746.2" y="303.8" width="172.5" height="21.5" fill="#fff"/>
<rect x="803.9" y="326.5" width="56.4" height="21.5" fill="#fff"/>
<rect x="645.5" y="405.3" width="172.4" height="21.5" fill="#fff"/>
<rect x="695.6" y="427.8" width="71.1" height="21.5" fill="#fff"/>
<rect x="115.2" y="634.0" width="95.9" height="21.5" fill="#fff"/>
<rect x="294.9" y="633.2" width="150.3" height="21.5" fill="#fff"/>
<rect x="237.4" y="779.1" width="67.2" height="21.5" fill="#fff"/>
<rect x="685.1" y="586.8" width="103.9" height="21.5" fill="#fff"/>
<rect x="561.4" y="641.7" width="87.0" height="21.5" fill="#fff"/>
<rect x="781.9" y="652.8" width="120.1" height="21.5" fill="#fff"/>
<rect x="555.3" y="763.1" width="159.5" height="21.5" fill="#fff"/>
<rect x="732.2" y="760.8" width="125.9" height="21.5" fill="#fff"/>
<text x="145.25" y="252.70" font-size="18.4" textLength="110.02" lengthAdjust="spacingAndGlyphs" fill="#000" >Drug-loaded</text>
<text x="165.65" y="274.80" font-size="18.4" textLength="70.53" lengthAdjust="spacingAndGlyphs" fill="#000" >vesicles</text>
<text x="304.74" y="253.60" font-size="18.4" textLength="110.73" lengthAdjust="spacingAndGlyphs" fill="#000" >Drug-coated</text>
<text x="338.24" y="276.30" font-size="18.4" textLength="43.92" lengthAdjust="spacingAndGlyphs" fill="#000" >stent</text>
<text x="74.63" y="376.90" font-size="18.4" textLength="137.26" lengthAdjust="spacingAndGlyphs" fill="#000" >Drug screening</text>
<text x="294.90" y="370.80" font-size="18.4" textLength="170.60" lengthAdjust="spacingAndGlyphs" fill="#000" >Scaffold fabrication</text>
<text x="162.84" y="441.20" font-size="18.4" textLength="169.24" lengthAdjust="spacingAndGlyphs" fill="#000" >Biomaterial pattern</text>
<text x="669.34" y="216.70" font-size="18.4" textLength="109.51" lengthAdjust="spacingAndGlyphs" fill="#000" >Biomolecule</text>
<text x="692.59" y="238.30" font-size="18.4" textLength="62.89" lengthAdjust="spacingAndGlyphs" fill="#000" >pattern</text>
<text x="562.89" y="319.50" font-size="18.4" textLength="125.90" lengthAdjust="spacingAndGlyphs" fill="#000" >Concentration</text>
<text x="588.74" y="341.60" font-size="18.4" textLength="73.44" lengthAdjust="spacingAndGlyphs" fill="#000" >gradient</text>
<text x="746.04" y="320.60" font-size="18.4" textLength="172.45" lengthAdjust="spacingAndGlyphs" fill="#000" >Biomolecule-bound</text>
<text x="804.04" y="343.30" font-size="18.4" textLength="55.01" lengthAdjust="spacingAndGlyphs" fill="#000" >matrix</text>
<text x="645.34" y="422.10" font-size="18.4" textLength="172.34" lengthAdjust="spacingAndGlyphs" fill="#000" >Biomolecule-bound</text>
<text x="696.54" y="444.60" font-size="18.4" textLength="69.95" lengthAdjust="spacingAndGlyphs" fill="#000" >scaffold</text>
<text x="115.05" y="650.80" font-size="18.4" textLength="94.61" lengthAdjust="spacingAndGlyphs" fill="#000" >Microarray</text>
<text x="294.74" y="650.00" font-size="18.4" textLength="150.22" lengthAdjust="spacingAndGlyphs" fill="#000" >Nano dispensing</text>
<text x="237.22" y="795.90" font-size="18.4" textLength="66.74" lengthAdjust="spacingAndGlyphs" fill="#000" >Biochip</text>
<text x="685.59" y="603.60" font-size="18.4" textLength="103.20" lengthAdjust="spacingAndGlyphs" fill="#000" >Cell pattern</text>
<text x="561.91" y="658.50" font-size="18.4" textLength="85.02" lengthAdjust="spacingAndGlyphs" fill="#000" >Cell array</text>
<text x="782.95" y="669.60" font-size="18.4" textLength="118.91" lengthAdjust="spacingAndGlyphs" fill="#000" >Tissue model</text>
<text x="555.79" y="779.90" font-size="18.4" textLength="158.79" lengthAdjust="spacingAndGlyphs" fill="#000" >Gene transfection</text>
<text x="731.83" y="777.60" font-size="18.4" textLength="126.06" lengthAdjust="spacingAndGlyphs" fill="#000" >In situ printing</text>
<text x="282.95" y="96.70" font-size="19.6" textLength="209.27" lengthAdjust="spacingAndGlyphs" fill="#000" >A. Generic biomaterials</text>
<text x="556.14" y="96.70" font-size="19.6" textLength="144.06" lengthAdjust="spacingAndGlyphs" fill="#000" >B. Biomolecules</text>
<text x="339.79" y="861.80" font-size="19.6" textLength="78.30" lengthAdjust="spacingAndGlyphs" fill="#000" >C. DNAs</text>
<text x="583.14" y="861.80" font-size="19.6" textLength="70.27" lengthAdjust="spacingAndGlyphs" fill="#000" >D. Cells</text>
<text x="482.89" y="463.10" font-size="19.0" textLength="44.80" lengthAdjust="spacingAndGlyphs" fill="#000" >Main</text>
<text x="452.25" y="485.30" font-size="19.0" textLength="106.24" lengthAdjust="spacingAndGlyphs" fill="#000" >applications</text>
<rect x="282.1" y="67.1" width="208.8" height="45.2" rx="7" ry="7" fill="none" stroke="#BEDCAA" stroke-width="2.2"/>
<rect x="515.5" y="67.0" width="209.00000000000006" height="45.099999999999994" rx="7" ry="7" fill="none" stroke="#BEDCAA" stroke-width="2.2"/>
<rect x="282.1" y="830.3000000000001" width="208.8" height="44.59999999999995" rx="7" ry="7" fill="none" stroke="#BEDCAA" stroke-width="2.2"/>
<rect x="515.7" y="830.3000000000001" width="208.99999999999994" height="44.59999999999995" rx="7" ry="7" fill="none" stroke="#BEDCAA" stroke-width="2.2"/>
<text x="306.77" y="567.50" font-size="14.2" textLength="58.85" lengthAdjust="spacingAndGlyphs" fill="#000" >Double</text>
<text x="307.00" y="589.80" font-size="14.2" textLength="75.21" lengthAdjust="spacingAndGlyphs" fill="#000" >emulsion</text>
</svg>
</body></html>
